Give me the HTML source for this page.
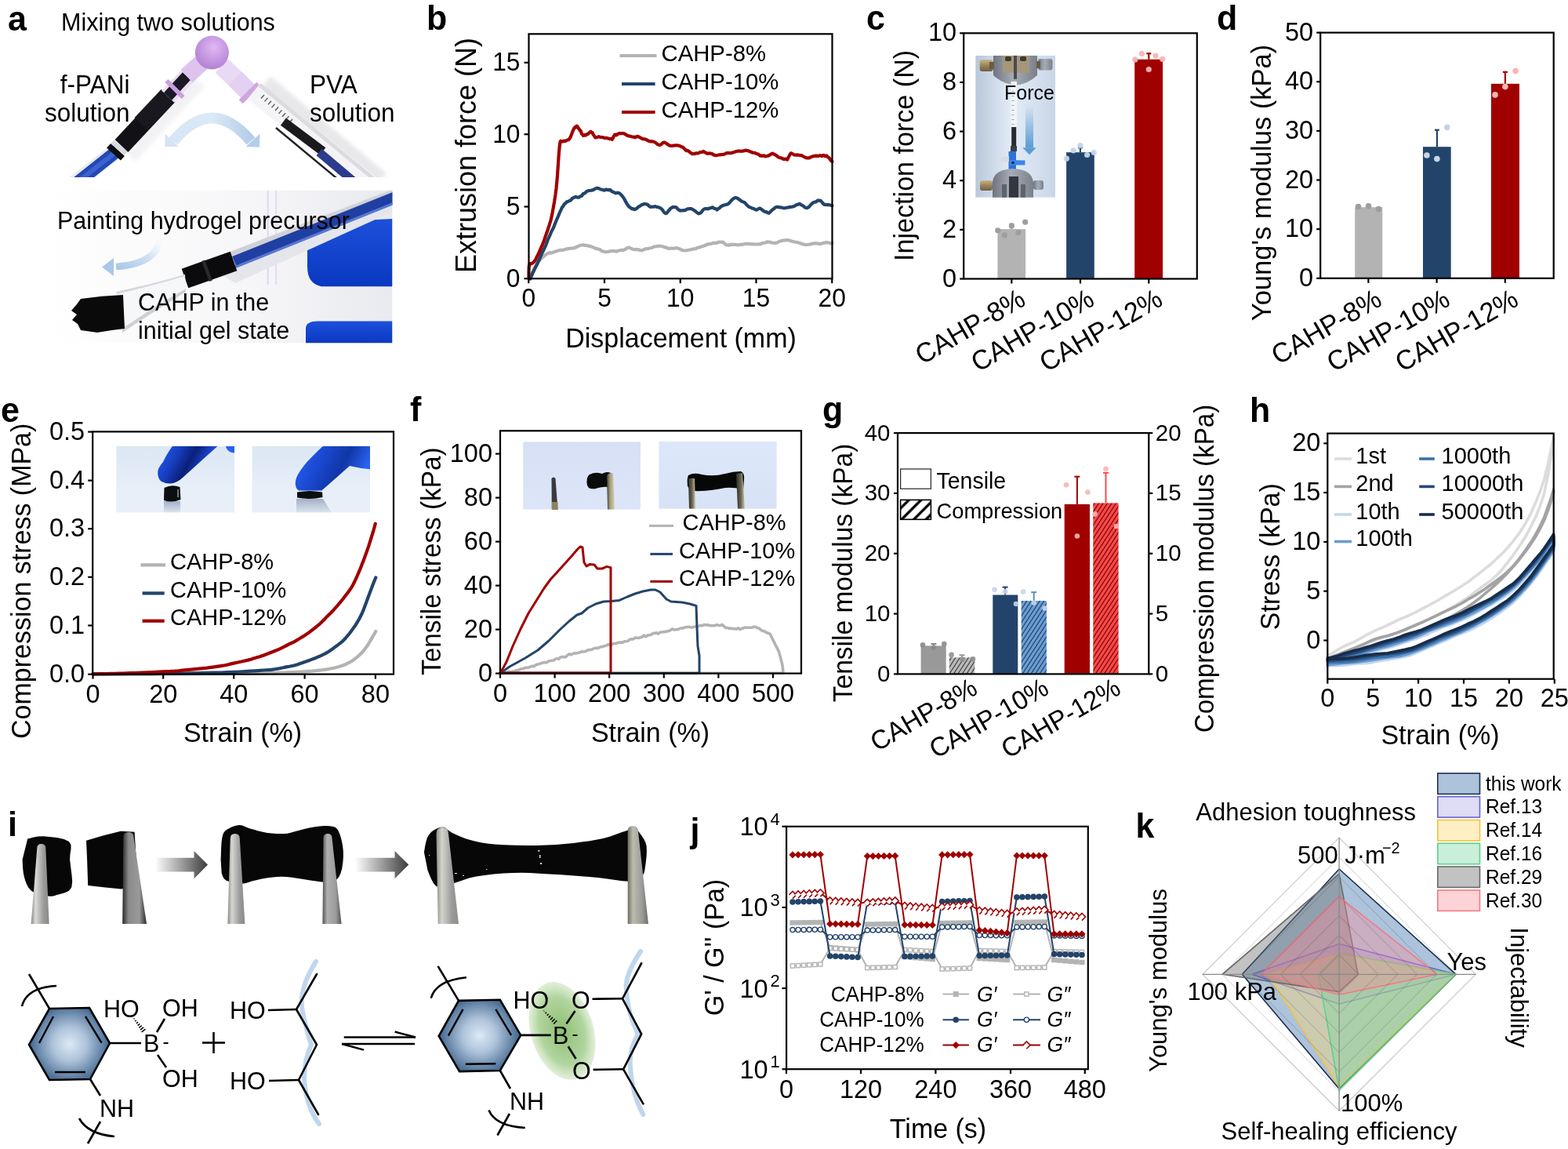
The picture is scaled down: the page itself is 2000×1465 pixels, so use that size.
<!DOCTYPE html>
<html><head><meta charset="utf-8"><style>
html,body{margin:0;padding:0;background:#fff;}
svg{display:block;}
text{font-family:"Liberation Sans",sans-serif;}
</style></head><body>
<svg width="2000" height="1465" viewBox="0 0 2000 1465">
<defs><linearGradient id="a_arc" x1="0" y1="0" x2="1" y2="0"><stop offset="0" stop-color="#d6e6f6"/><stop offset="0.5" stop-color="#dce9f6"/><stop offset="1" stop-color="#b3cdea"/></linearGradient>
<radialGradient id="a_sph" cx="0.55" cy="0.35" r="0.65"><stop offset="0" stop-color="#e0b8f4"/><stop offset="0.6" stop-color="#c596e0"/><stop offset="1" stop-color="#b282d2"/></radialGradient>
<linearGradient id="a_arr2" x1="1" y1="0" x2="0" y2="1"><stop offset="0" stop-color="#ffffff" stop-opacity="0"/><stop offset="0.5" stop-color="#cfe0f2"/><stop offset="1" stop-color="#a9c8e8"/></linearGradient>
<linearGradient id="a_glv" x1="0" y1="0" x2="0" y2="1"><stop offset="0" stop-color="#1d50da"/><stop offset="1" stop-color="#0a38c0"/></linearGradient>
<linearGradient id="a_bg2" x1="0" y1="0" x2="1" y2="0"><stop offset="0" stop-color="#ffffff"/><stop offset="0.6" stop-color="#f6f6f8"/><stop offset="1" stop-color="#e9eaef"/></linearGradient>
<filter id="blur1" x="-20%" y="-20%" width="140%" height="140%"><feGaussianBlur stdDeviation="2.5"/></filter>
<clipPath id="cp_a1"><rect x="0" y="40" width="520" height="186"/></clipPath>
<clipPath id="cp_a2"><rect x="60" y="242.5" width="440.5" height="195"/></clipPath><linearGradient id="tw39" x1="0" y1="0" x2="1" y2="0"><stop offset="0" stop-color="#8a8a86"/><stop offset="0.25" stop-color="#dadad6"/><stop offset="0.7" stop-color="#9a9a9a"/><stop offset="1" stop-color="#8a8a86"/></linearGradient><linearGradient id="tw156" x1="0" y1="0" x2="1" y2="0"><stop offset="0" stop-color="#2a2a2a"/><stop offset="0.25" stop-color="#8a8a8a"/><stop offset="0.7" stop-color="#9a9a9a"/><stop offset="1" stop-color="#2a2a2a"/></linearGradient><linearGradient id="iarr" x1="0" y1="0" x2="1" y2="0"><stop offset="0" stop-color="#fff"/><stop offset="1" stop-color="#3c3c3c"/></linearGradient><linearGradient id="tw290" x1="0" y1="0" x2="1" y2="0"><stop offset="0" stop-color="#8a8a86"/><stop offset="0.25" stop-color="#d6d6d2"/><stop offset="0.7" stop-color="#9a9a9a"/><stop offset="1" stop-color="#8a8a86"/></linearGradient><linearGradient id="tw411" x1="0" y1="0" x2="1" y2="0"><stop offset="0" stop-color="#555"/><stop offset="0.25" stop-color="#b0b0b0"/><stop offset="0.7" stop-color="#9a9a9a"/><stop offset="1" stop-color="#555"/></linearGradient><linearGradient id="tw558" x1="0" y1="0" x2="1" y2="0"><stop offset="0" stop-color="#8e8e88"/><stop offset="0.25" stop-color="#d4d4ce"/><stop offset="0.7" stop-color="#9a9a9a"/><stop offset="1" stop-color="#8e8e88"/></linearGradient><linearGradient id="tw800" x1="0" y1="0" x2="1" y2="0"><stop offset="0" stop-color="#6e6e64"/><stop offset="0.25" stop-color="#bcbcae"/><stop offset="0.7" stop-color="#9a9a9a"/><stop offset="1" stop-color="#6e6e64"/></linearGradient><radialGradient id="rg1" cx="88.66666666666667" cy="1331.0" r="48" gradientUnits="userSpaceOnUse"><stop offset="0" stop-color="#dde9f5"/><stop offset="0.45" stop-color="#aec3da"/><stop offset="1" stop-color="#4d7097"/></radialGradient><radialGradient id="grn" cx="0.5" cy="0.5" r="0.5"><stop offset="0" stop-color="#8dbf72"/><stop offset="0.7" stop-color="#b2d59f"/><stop offset="1" stop-color="#d4e8c8" stop-opacity="0.7"/></radialGradient><radialGradient id="rg2" cx="611.7666666666667" cy="1320.45" r="48" gradientUnits="userSpaceOnUse"><stop offset="0" stop-color="#dde9f5"/><stop offset="0.45" stop-color="#aec3da"/><stop offset="1" stop-color="#4d7097"/></radialGradient><linearGradient id="gc_bg" x1="0" y1="0" x2="1" y2="0"><stop offset="0" stop-color="#b9c7da"/><stop offset="0.45" stop-color="#e3edf8"/><stop offset="1" stop-color="#c9d6e7"/></linearGradient>
<linearGradient id="gc_ar" x1="0" y1="0" x2="0" y2="1"><stop offset="0" stop-color="#5b9bd5" stop-opacity="0"/><stop offset="1" stop-color="#5b9bd5"/></linearGradient>
<clipPath id="cp_c"><rect x="1244.2" y="70.8" width="101.9" height="181"/></clipPath><linearGradient id="brass" x1="0" y1="0" x2="0" y2="1"><stop offset="0" stop-color="#c9b489"/><stop offset="0.5" stop-color="#9a8458"/><stop offset="1" stop-color="#6e6048"/></linearGradient><linearGradient id="steel" x1="0" y1="0" x2="1" y2="0"><stop offset="0" stop-color="#6f7580"/><stop offset="0.45" stop-color="#a7adb6"/><stop offset="1" stop-color="#7b818b"/></linearGradient><linearGradient id="glove1" x1="0" y1="0" x2="1" y2="0.35"><stop offset="0" stop-color="#2460f5"/><stop offset="0.35" stop-color="#163fc0"/><stop offset="0.6" stop-color="#0b1f78"/><stop offset="0.85" stop-color="#1a48d8"/><stop offset="1" stop-color="#2a62f0"/></linearGradient><linearGradient id="glove2" x1="0" y1="0" x2="1" y2="0.3"><stop offset="0" stop-color="#2a66f5"/><stop offset="0.4" stop-color="#1a48d0"/><stop offset="0.7" stop-color="#1036a8"/><stop offset="1" stop-color="#2a62f0"/></linearGradient><linearGradient id="refl" x1="0" y1="0" x2="0" y2="1"><stop offset="0" stop-color="#a3b0c6"/><stop offset="1" stop-color="#dbe4f0"/></linearGradient><linearGradient id="pe1" x1="0" y1="0" x2="0" y2="1"><stop offset="0" stop-color="#dce7f5"/><stop offset="1" stop-color="#ecf2fa"/></linearGradient><clipPath id="cp_pe1"><rect x="148.2" y="568.8" width="150.8" height="84.70000000000005"/></clipPath><linearGradient id="pe2" x1="0" y1="0" x2="0" y2="1"><stop offset="0" stop-color="#dce7f5"/><stop offset="1" stop-color="#ecf2fa"/></linearGradient><clipPath id="cp_pe2"><rect x="321.4" y="568.8" width="150.60000000000002" height="84.70000000000005"/></clipPath><linearGradient id="twf1" x1="0" y1="0" x2="1" y2="0"><stop offset="0" stop-color="#3a3a34"/><stop offset="0.4" stop-color="#a49d7c"/><stop offset="1" stop-color="#d8d2b4"/></linearGradient><linearGradient id="pf1" x1="0" y1="0" x2="0" y2="1"><stop offset="0" stop-color="#d7e0f6"/><stop offset="1" stop-color="#dde5f8"/></linearGradient><clipPath id="cp_pf1"><rect x="667.1" y="563.2" width="150.0" height="86.5"/></clipPath><linearGradient id="pf2" x1="0" y1="0" x2="0" y2="1"><stop offset="0" stop-color="#dce8fa"/><stop offset="1" stop-color="#d8e2f6"/></linearGradient><clipPath id="cp_pf2"><rect x="840.2" y="562.7" width="150.5999999999999" height="86.09999999999991"/></clipPath><linearGradient id="twf" x1="0" y1="0" x2="1" y2="0"><stop offset="0" stop-color="#2e2e2a"/><stop offset="0.55" stop-color="#6c6752"/><stop offset="1" stop-color="#cfc8a8"/></linearGradient><pattern id="hg" patternUnits="userSpaceOnUse" width="4.6" height="4.6" patternTransform="rotate(33)"><rect width="4.6" height="4.6" fill="#BBBBBB"/><line x1="2.3" y1="0" x2="2.3" y2="4.6" stroke="#333" stroke-width="1.1"/></pattern><pattern id="hb" patternUnits="userSpaceOnUse" width="4.6" height="4.6" patternTransform="rotate(33)"><rect width="4.6" height="4.6" fill="#6A9FD8"/><line x1="2.3" y1="0" x2="2.3" y2="4.6" stroke="#1f3350" stroke-width="1.1"/></pattern><pattern id="hr" patternUnits="userSpaceOnUse" width="4.6" height="4.6" patternTransform="rotate(33)"><rect width="4.6" height="4.6" fill="#FF4848"/><line x1="2.3" y1="0" x2="2.3" y2="4.6" stroke="#5a0000" stroke-width="1.1"/></pattern><pattern id="hl" patternUnits="userSpaceOnUse" width="11" height="11" patternTransform="rotate(45)"><rect width="11" height="11" fill="#fff"/><line x1="5.5" y1="0" x2="5.5" y2="11" stroke="#000" stroke-width="3.4"/></pattern></defs>
<rect width="2000" height="1465" fill="#fff"/>
<g clip-path="url(#cp_a1)">
<path d="M173.1 206.1 L261.1 110.1 L238.9 89.9 L150.9 185.9 Z" fill="#dcdce0" filter="url(#blur1)" opacity="0.35"/>
<path d="M327.0 118.7 L475.0 242.7 L493.0 221.3 L345.0 97.3 Z" fill="#d6d6da" filter="url(#blur1)" opacity="0.55"/>
<path d="M145.6 181.7 L85.6 227.7 L98.4 244.3 L158.4 198.3 Z" fill="#e9ecf2"/>
<path d="M145.0 185.7 L87.0 231.7 L97.0 244.3 L155.0 198.3 Z" fill="#2448b4"/>
<path d="M147.2 190.6 L98.2 228.6 L101.8 233.4 L150.8 195.4 Z" fill="#3a62d0"/>
<path d="M141.1 182.9 L136.1 188.4 L153.9 204.6 L158.9 199.1 Z" fill="#0e0e10"/>
<path d="M145.4 178.4 L141.4 182.9 L158.6 198.1 L162.6 193.6 Z" fill="#d9dbe0"/>
<path d="M163.4 193.9 L222.9 130.4 L206.1 114.6 L146.6 178.1 Z" fill="#121216"/>
<path d="M188.4 165.9 L222.4 129.9 L205.6 114.1 L171.6 150.1 Z" fill="#18181e"/>
<path d="M221.9 130.6 L249.9 101.6 L234.1 86.4 L206.1 115.4 Z" fill="#eadff0"/>
<path d="M219.1 127.7 L243.1 101.7 L232.9 92.3 L208.9 118.3 Z" fill="#1c1826"/>
<path d="M231.6 126.1 L235.6 122.1 L214.4 100.9 L210.4 104.9 Z" fill="#c9a0de"/>
<path d="M245.4 105.2 L265.4 87.2 L250.6 70.8 L230.6 88.8 Z" fill="#dec3ee"/>
<path d="M274.6 92.6 L309.6 126.6 L326.4 109.4 L291.4 75.4 Z" fill="#ead9f4"/>
<path d="M291.5 108.5 L309.5 126.5 L326.5 109.5 L308.5 91.5 Z" fill="#e4d0f0"/>
<path d="M304.7 127.3 L309.7 132.3 L332.3 109.7 L327.3 104.7 Z" fill="#cfa6e2"/>
<circle cx="270.4" cy="67" r="21.5" fill="url(#a_sph)"/>
<path d="M315.8 126.1 L463.8 246.1 L480.2 225.9 L332.2 105.9 Z" fill="#f4f4f6"/>
<path d="M329.4 109.9 L477.4 231.9 L480.6 228.1 L332.6 106.1 Z" fill="#dcdce0"/>
<path d="M333.5 126.0 L337.5 121.5 L336.5 120.5 L332.5 125.0 Z" fill="#555"/>
<path d="M338.0 129.8 L342.0 125.3 L341.0 124.4 L337.0 128.9 Z" fill="#555"/>
<path d="M342.5 133.7 L346.5 129.2 L345.5 128.3 L341.5 132.8 Z" fill="#555"/>
<path d="M347.0 137.6 L351.0 133.1 L350.0 132.2 L346.0 136.7 Z" fill="#555"/>
<path d="M351.5 141.5 L355.5 137.0 L354.5 136.0 L350.5 140.5 Z" fill="#555"/>
<path d="M356.0 145.3 L360.0 140.8 L359.0 139.9 L355.0 144.4 Z" fill="#555"/>
<path d="M360.5 149.2 L364.5 144.7 L363.5 143.8 L359.5 148.3 Z" fill="#555"/>
<path d="M365.0 153.1 L369.0 148.6 L368.0 147.7 L364.0 152.2 Z" fill="#555"/>
<path d="M369.5 157.0 L373.5 152.5 L372.5 151.5 L368.5 156.0 Z" fill="#555"/>
<path d="M357.9 159.7 L408.3 197.5 L415.3 188.3 L364.9 150.5 Z" fill="#1a1a1c"/>
<path d="M351.2 163.9 L439.2 236.9 L440.8 235.1 L352.8 162.1 Z" fill="#222"/>
<path d="M403.5 198.2 L448.5 236.2 L455.5 227.8 L410.5 189.8 Z" fill="#2c3c8c"/>
<path d="M221 180 Q270.4 121 320 180" fill="none" stroke="url(#a_arc)" stroke-width="14"/>
<path d="M210.5 170.5 L210.5 187.1 L228 187.1 Z" fill="#d4e4f5"/>
<path d="M331.6 170.5 L331 187.8 L313.6 187.1 Z" fill="#b3cdea"/>
</g>
<g clip-path="url(#cp_a2)">
<rect x="60.00" y="242.50" width="440.50" height="195.00" fill="url(#a_bg2)"/>
<rect x="340.60" y="243.00" width="2.20" height="120.00" fill="#e2d9ee"/>
<rect x="351.00" y="243.00" width="2.20" height="120.00" fill="#e6def0"/>
<path d="M392 318 Q392 292 415 286 L440 282 L500.5 279 L500.5 365.2 L410 365.2 Q392 362 392 340 Z" fill="url(#a_glv)"/>
<path d="M390 418 Q391 409.4 405 409.4 L500.5 409.4 L500.5 437.5 L390 437.5 Z" fill="url(#a_glv)"/>
<path d="M258 335 L500.5 240 L500.5 270 L300 361 Z" fill="#e4e6ec"/>
<path d="M262 333 L500.5 242 L500.5 250 L266 341 Z" fill="#cfd1d8"/>
<path d="M301.8 341.0 L507.8 258.5 L502.2 244.5 L296.2 327.0 Z" fill="#1f3fa2"/>
<path d="M299.6 342.4 L505.6 259.4 L504.4 256.6 L298.4 339.6 Z" fill="#5a78d0"/>
<path d="M240.3 367.3 L302.3 345.3 L293.7 320.7 L231.7 342.7 Z" fill="#0b0b0d"/>
<path d="M266.9 359.1 L270.9 357.6 L261.1 331.4 L257.1 332.9 Z" fill="#2a2a2e"/>
<path d="M148 372 Q195 362 236 350 L237 372 Q200 395 156 424 Z" fill="#f6f7f9"/>
<path d="M156 424 Q200 395 237 372 L237 368 Q198 390 156 419 Z" fill="#cdd0d6"/>
<path d="M148 372 Q195 362 236 350 L236 352 Q195 364 149 375 Z" fill="#d5d7dc"/>
<path d="M157 376 L159 419 Q140 421 124 424 L103 421 L99 413 L92 408 L98 401 L91 396 L98 388 L103 381 Q130 377 157 376 Z" fill="#0a0a0a"/>
<path d="M205 296 Q206 336 148 340" fill="none" stroke="url(#a_arr2)" stroke-width="8.5"/>
<path d="M130 340.5 L145 329 L145 352 Z" fill="#a9c8e8"/>
</g>
<text transform="translate(78.00 38.75) scale(1 1.03)" font-size="30.5">Mixing two solutions</text>
<text transform="translate(165.50 118.75) scale(1 1.03)" font-size="31.5" text-anchor="end">f-PANi</text>
<text transform="translate(165.50 155.00) scale(1 1.03)" font-size="31.5" text-anchor="end">solution</text>
<text transform="translate(395.00 118.75) scale(1 1.03)" font-size="31.5">PVA</text>
<text transform="translate(395.00 155.00) scale(1 1.03)" font-size="31.5">solution</text>
<text transform="translate(73.00 291.90) scale(1 1.03)" font-size="30.5">Painting hydrogel precursor</text>
<text transform="translate(176.00 396.00) scale(1 1.03)" font-size="30.5">CAHP in the</text>
<text transform="translate(176.00 432.00) scale(1 1.03)" font-size="30.5">initial gel state</text>
<path d="M35.2 1069.6 L38.4 1068.8 L43.0 1067.5 L48.7 1066.5 L55.0 1066.3 L63.1 1066.9 L72.7 1067.9 L81.7 1069.9 L88.0 1072.9 L90.5 1077.2 L90.5 1082.7 L89.5 1089.0 L89.1 1096.0 L90.1 1104.5 L91.4 1114.4 L92.2 1123.9 L91.3 1131.2 L88.0 1135.7 L82.9 1138.3 L77.4 1139.8 L72.6 1141.1 L69.1 1142.2 L66.1 1142.7 L63.0 1142.7 L59.4 1142.2 L54.7 1141.3 L49.2 1140.1 L43.9 1138.2 L39.6 1135.6 L36.5 1132.1 L34.1 1127.8 L32.3 1123.0 L30.8 1118.0 L29.7 1112.3 L29.1 1105.9 L28.8 1100.1 L28.6 1096.0 Z" fill="#070707" stroke="none" stroke-width="0" stroke-linejoin="round" stroke-linecap="round"/>
<path d="M39.6 1178 L47.3 1081.5 Q47.3 1076 52.8 1076 Q58.3 1076 58.3 1081.5 L62.7 1178 Z" fill="url(#tw39)"/>
<path d="M110.0 1071.8 L132.0 1065.2 L154.0 1059.7 L171.6 1060.8 L173.8 1096.0 L171.6 1131.2 L154.0 1133.4 L132.0 1131.2 L112.2 1129.0 L111.1 1096.0 Z" fill="#070707" stroke="none" stroke-width="0" stroke-linejoin="round" stroke-linecap="round"/>
<path d="M156.2 1178 L157.3 1067.6 Q157.3 1061 163.9 1061 Q170.5 1061 170.5 1067.6 L187 1178 Z" fill="url(#tw156)"/>
<path d="M198 1093.8 L247.5 1093.8 L247.5 1085 L265 1102.6 L247.5 1120.2 L247.5 1111.4 L198 1111.4 Z" fill="url(#iarr)"/>
<path d="M281.6 1096.0 L281.8 1091.0 L282.0 1083.7 L282.4 1076.1 L283.0 1070.0 L283.8 1066.0 L284.7 1063.1 L286.0 1060.8 L288.2 1058.6 L291.6 1056.4 L295.9 1054.3 L300.5 1052.8 L304.7 1052.0 L308.2 1052.3 L311.5 1053.4 L314.9 1055.0 L319.0 1056.4 L324.0 1057.8 L329.5 1059.4 L335.3 1060.8 L341.0 1061.9 L346.8 1062.6 L352.7 1062.9 L358.3 1063.1 L363.0 1063.0 L366.3 1062.8 L368.5 1062.3 L370.7 1061.7 L374.0 1060.8 L378.7 1059.6 L384.3 1058.0 L390.2 1056.5 L396.0 1055.3 L401.7 1054.3 L407.6 1053.5 L413.1 1053.0 L418.0 1053.1 L422.1 1053.4 L425.6 1054.1 L428.6 1055.6 L431.2 1058.6 L433.5 1063.7 L435.5 1070.4 L437.0 1077.8 L437.8 1085.0 L437.9 1092.4 L437.3 1100.3 L436.2 1107.6 L434.5 1113.6 L432.4 1117.9 L429.9 1121.0 L426.6 1123.2 L422.4 1124.6 L416.9 1125.0 L410.4 1124.5 L403.2 1123.4 L396.0 1122.4 L388.4 1121.3 L380.3 1120.0 L372.4 1118.8 L365.2 1118.0 L359.0 1117.8 L353.4 1118.1 L348.2 1118.5 L343.2 1119.1 L338.5 1119.7 L334.1 1120.5 L329.9 1121.4 L325.6 1122.4 L321.3 1123.6 L316.9 1125.1 L312.6 1126.3 L308.0 1126.8 L302.9 1126.4 L297.3 1125.4 L292.2 1124.0 L288.2 1122.4 L285.7 1120.3 L284.2 1117.7 L283.4 1115.3 L282.7 1113.6 Z" fill="#070707" stroke="none" stroke-width="0" stroke-linejoin="round" stroke-linecap="round"/>
<path d="M290.4 1178 L293.7 1069.05 Q293.7 1063 299.75 1063 Q305.8 1063 305.8 1069.05 L312.4 1178 Z" fill="url(#tw290)"/>
<path d="M411.4 1178 L412.5 1068.5 Q412.5 1063 418.0 1063 Q423.5 1063 423.5 1068.5 L435.6 1178 Z" fill="url(#tw411)"/>
<path d="M453 1093.8 L503.5 1093.8 L503.5 1085 L521.3 1102.6 L503.5 1120.2 L503.5 1111.4 L453 1111.4 Z" fill="url(#iarr)"/>
<path d="M540.9 1086.5 L541.5 1083.0 L542.4 1077.8 L543.6 1072.4 L545.0 1068.0 L546.7 1064.9 L548.6 1062.4 L550.8 1060.3 L553.3 1058.6 L556.1 1057.0 L559.3 1055.6 L562.6 1054.8 L565.7 1054.7 L568.2 1055.6 L570.4 1057.4 L573.0 1059.5 L576.5 1061.7 L581.3 1064.0 L586.9 1066.5 L593.1 1068.9 L599.8 1071.0 L606.5 1072.7 L613.4 1074.2 L621.2 1075.4 L630.8 1076.4 L642.9 1077.2 L656.9 1077.7 L671.4 1078.0 L685.0 1078.0 L697.3 1077.6 L709.2 1076.9 L720.6 1076.0 L731.5 1074.9 L742.0 1073.6 L752.1 1072.2 L761.5 1070.5 L770.3 1068.7 L778.4 1066.4 L785.9 1063.8 L792.6 1061.3 L798.2 1059.4 L802.4 1058.1 L805.4 1057.2 L807.8 1056.8 L810.0 1057.0 L812.0 1057.7 L813.6 1059.0 L815.1 1060.9 L816.8 1063.3 L818.9 1066.3 L821.2 1069.8 L823.3 1074.0 L824.6 1078.8 L824.9 1084.9 L824.6 1092.1 L823.8 1099.2 L823.0 1105.0 L822.4 1109.2 L821.7 1112.5 L820.5 1115.1 L818.4 1117.5 L815.5 1119.7 L812.0 1121.7 L807.4 1123.1 L801.3 1123.7 L793.7 1123.3 L784.8 1122.0 L774.4 1120.4 L762.6 1119.0 L748.4 1117.8 L732.0 1116.5 L715.5 1115.3 L700.5 1114.4 L687.8 1113.7 L676.3 1113.1 L665.3 1112.8 L654.0 1112.9 L642.0 1113.5 L629.8 1114.5 L618.0 1115.9 L607.5 1117.5 L598.4 1119.6 L590.4 1122.2 L583.1 1124.8 L576.5 1126.8 L570.5 1128.6 L565.2 1130.2 L560.5 1131.0 L556.4 1130.0 L552.8 1126.1 L549.7 1120.1 L547.2 1114.0 L545.5 1109.8 Z" fill="#070707" stroke="none" stroke-width="0" stroke-linejoin="round" stroke-linecap="round"/>
<rect x="686.00" y="1084.00" width="2.50" height="1.50" fill="#d8d8d8"/>
<rect x="688.00" y="1090.00" width="1.50" height="4.00" fill="#d8d8d8"/>
<rect x="689.00" y="1100.00" width="2.00" height="2.00" fill="#d8d8d8"/>
<rect x="580.00" y="1113.00" width="3.00" height="1.20" fill="#d8d8d8"/>
<rect x="590.00" y="1116.00" width="2.00" height="1.00" fill="#d8d8d8"/>
<rect x="547.00" y="1090.00" width="1.20" height="1.20" fill="#d8d8d8"/>
<rect x="560.00" y="1120.00" width="1.50" height="1.50" fill="#d8d8d8"/>
<rect x="620.00" y="1108.00" width="1.50" height="1.00" fill="#d8d8d8"/>
<path d="M558.7 1178 L556.5 1062.75 Q556.5 1055 564.25 1055 Q572 1055 572 1062.75 L585 1178 Z" fill="url(#tw558)"/>
<path d="M800.7 1178 L800.7 1059.65 Q800.7 1053 807.35 1053 Q814 1053 814 1059.65 L827 1178 Z" fill="url(#tw800)"/>
<path d="M63 1286 L114 1285 L140 1330 L115 1376 L63 1377 L37 1332 Z" fill="url(#rg1)" stroke="#000" stroke-width="2.6" stroke-linejoin="miter"/>
<line x1="50.00" y1="1330.00" x2="68.00" y2="1296.00" stroke="#000" stroke-width="2.4"/>
<line x1="109.00" y1="1296.00" x2="129.60" y2="1329.60" stroke="#000" stroke-width="2.4"/>
<line x1="70.00" y1="1367.00" x2="109.00" y2="1367.00" stroke="#000" stroke-width="2.4"/>
<line x1="63.00" y1="1286.00" x2="37.00" y2="1242.00" stroke="#000" stroke-width="2.6"/>
<path d="M28 1283 Q34 1259 72 1257" fill="none" stroke="#000" stroke-width="2.6"/>
<line x1="140.00" y1="1330.00" x2="180.00" y2="1330.00" stroke="#000" stroke-width="2.6"/>
<text transform="translate(183.00 1341.00) scale(1 1.03)" font-size="30.5">B</text>
<text transform="translate(207.50 1337.00) scale(1 1.03)" font-size="24.400000000000002">-</text>
<text transform="translate(132.00 1297.00) scale(1 1.03)" font-size="30.5">HO</text>
<line x1="180.66" y1="1315.87" x2="185.34" y2="1312.13" stroke="#000" stroke-width="1.5"/>
<line x1="178.98" y1="1313.11" x2="183.02" y2="1309.89" stroke="#000" stroke-width="1.5"/>
<line x1="177.31" y1="1310.35" x2="180.69" y2="1307.65" stroke="#000" stroke-width="1.5"/>
<line x1="175.63" y1="1307.59" x2="178.37" y2="1305.41" stroke="#000" stroke-width="1.5"/>
<line x1="173.96" y1="1304.83" x2="176.04" y2="1303.17" stroke="#000" stroke-width="1.5"/>
<line x1="172.28" y1="1302.07" x2="173.72" y2="1300.93" stroke="#000" stroke-width="1.5"/>
<line x1="170.61" y1="1299.31" x2="171.39" y2="1298.69" stroke="#000" stroke-width="1.5"/>
<line x1="200.00" y1="1316.00" x2="210.00" y2="1299.00" stroke="#000" stroke-width="2.6"/>
<text transform="translate(207.00 1296.00) scale(1 1.03)" font-size="30.5">OH</text>
<line x1="201.00" y1="1345.00" x2="212.00" y2="1361.00" stroke="#000" stroke-width="2.6"/>
<text transform="translate(207.00 1386.00) scale(1 1.03)" font-size="30.5">OH</text>
<line x1="115.00" y1="1376.00" x2="128.00" y2="1397.00" stroke="#000" stroke-width="2.6"/>
<text transform="translate(127.00 1424.00) scale(1 1.03)" font-size="30.5">NH</text>
<line x1="128.00" y1="1430.00" x2="112.00" y2="1458.00" stroke="#000" stroke-width="2.6"/>
<path d="M101 1426 Q112 1446 146 1449" fill="none" stroke="#000" stroke-width="2.6"/>
<line x1="258.00" y1="1329.50" x2="287.00" y2="1329.50" stroke="#000" stroke-width="2.6"/>
<line x1="272.50" y1="1316.00" x2="272.50" y2="1343.00" stroke="#000" stroke-width="2.6"/>
<path d="M403 1226 Q380 1262 386 1290 Q392 1318 397 1332 Q388 1352 388 1375 Q390 1410 407 1433" fill="none" stroke="#b9d1ea" stroke-width="6" stroke-linecap="round" opacity="0.9"/>
<path d="M404.0 1242.0 L378.0 1287.0 L404.0 1332.0 L381.0 1377.0 L406.0 1421.0" fill="none" stroke="#000" stroke-width="2.6" stroke-linejoin="round" stroke-linecap="round"/>
<line x1="342.00" y1="1288.00" x2="378.00" y2="1287.00" stroke="#000" stroke-width="2.6"/>
<line x1="343.00" y1="1378.00" x2="381.00" y2="1377.00" stroke="#000" stroke-width="2.6"/>
<text transform="translate(293.00 1299.00) scale(1 1.03)" font-size="30.5">HO</text>
<text transform="translate(293.00 1389.00) scale(1 1.03)" font-size="30.5">HO</text>
<line x1="438.70" y1="1322.50" x2="530.00" y2="1322.50" stroke="#000" stroke-width="2.4"/>
<line x1="530.00" y1="1322.50" x2="503.60" y2="1315.50" stroke="#000" stroke-width="2.4"/>
<line x1="436.00" y1="1331.00" x2="529.00" y2="1331.00" stroke="#000" stroke-width="2.4"/>
<line x1="436.00" y1="1331.00" x2="464.00" y2="1338.60" stroke="#000" stroke-width="2.4"/>
<ellipse cx="717" cy="1314.4" rx="40" ry="64" fill="url(#grn)" transform="rotate(-17 717 1314.4)"/>
<path d="M585 1275.9 L637.8 1274.8 L664.2 1319.9 L637.8 1365 L586.1 1366.1 L559.7 1321 Z" fill="url(#rg2)" stroke="#000" stroke-width="2.6" stroke-linejoin="miter"/>
<line x1="571.80" y1="1320.60" x2="590.50" y2="1286.90" stroke="#000" stroke-width="2.4"/>
<line x1="632.30" y1="1286.90" x2="652.10" y2="1319.90" stroke="#000" stroke-width="2.4"/>
<line x1="593.80" y1="1356.70" x2="632.30" y2="1356.20" stroke="#000" stroke-width="2.4"/>
<line x1="585.00" y1="1275.90" x2="558.60" y2="1231.90" stroke="#000" stroke-width="2.6"/>
<path d="M549.8 1272.6 Q556 1250 594.9 1246.2" fill="none" stroke="#000" stroke-width="2.6"/>
<line x1="664.20" y1="1319.90" x2="702.70" y2="1319.90" stroke="#000" stroke-width="2.6"/>
<text transform="translate(705.00 1331.00) scale(1 1.03)" font-size="30.5">B</text>
<text transform="translate(729.50 1327.00) scale(1 1.03)" font-size="24.400000000000002">-</text>
<text transform="translate(654.50 1285.80) scale(1 1.03)" font-size="30.5">HO</text>
<line x1="706.08" y1="1305.52" x2="710.32" y2="1301.28" stroke="#000" stroke-width="1.5"/>
<line x1="703.99" y1="1302.84" x2="707.64" y2="1299.19" stroke="#000" stroke-width="1.5"/>
<line x1="701.90" y1="1300.17" x2="704.97" y2="1297.10" stroke="#000" stroke-width="1.5"/>
<line x1="699.81" y1="1297.49" x2="702.29" y2="1295.01" stroke="#000" stroke-width="1.5"/>
<line x1="697.72" y1="1294.81" x2="699.61" y2="1292.92" stroke="#000" stroke-width="1.5"/>
<line x1="695.64" y1="1292.13" x2="696.93" y2="1290.84" stroke="#000" stroke-width="1.5"/>
<line x1="693.55" y1="1289.45" x2="694.25" y2="1288.75" stroke="#000" stroke-width="1.5"/>
<line x1="722.50" y1="1305.20" x2="733.50" y2="1289.10" stroke="#000" stroke-width="2.6"/>
<line x1="724.70" y1="1334.20" x2="734.60" y2="1350.00" stroke="#000" stroke-width="2.6"/>
<text transform="translate(729.00 1285.80) scale(1 1.03)" font-size="30.5">O</text>
<text transform="translate(730.00 1376.00) scale(1 1.03)" font-size="30.5">O</text>
<line x1="755.50" y1="1273.70" x2="794.00" y2="1273.30" stroke="#000" stroke-width="2.6"/>
<line x1="756.60" y1="1363.90" x2="795.10" y2="1363.30" stroke="#000" stroke-width="2.6"/>
<path d="M817 1213 Q796 1245 799 1262 Q800 1290 813.8 1318.8 Q802 1340 804 1360 Q806 1395 820.4 1421" fill="none" stroke="#b9d1ea" stroke-width="6" stroke-linecap="round" opacity="0.9"/>
<path d="M818.2 1228.2 L794.0 1273.3 L818.2 1318.4 L795.1 1363.3 L820.4 1407.3" fill="none" stroke="#000" stroke-width="2.6" stroke-linejoin="round" stroke-linecap="round"/>
<line x1="637.80" y1="1365.00" x2="651.00" y2="1388.00" stroke="#000" stroke-width="2.6"/>
<text transform="translate(650.00 1414.50) scale(1 1.03)" font-size="30.5">NH</text>
<line x1="649.90" y1="1420.00" x2="634.50" y2="1447.50" stroke="#000" stroke-width="2.6"/>
<path d="M623.5 1415.6 Q632 1436 669.7 1438" fill="none" stroke="#000" stroke-width="2.6"/>
<text transform="translate(10.00 39.00) scale(1 1.03)" font-size="43" font-weight="bold">a</text>
<text transform="translate(544.00 38.00) scale(1 1.03)" font-size="43" font-weight="bold">b</text>
<text transform="translate(1105.00 38.00) scale(1 1.03)" font-size="43" font-weight="bold">c</text>
<text transform="translate(1552.00 38.00) scale(1 1.03)" font-size="43" font-weight="bold">d</text>
<text transform="translate(1.00 538.00) scale(1 1.03)" font-size="43" font-weight="bold">e</text>
<text transform="translate(523.00 537.00) scale(1 1.03)" font-size="43" font-weight="bold">f</text>
<text transform="translate(1049.00 537.00) scale(1 1.03)" font-size="43" font-weight="bold">g</text>
<text transform="translate(1594.00 538.00) scale(1 1.03)" font-size="43" font-weight="bold">h</text>
<text transform="translate(10.00 1066.00) scale(1 1.03)" font-size="43" font-weight="bold">i</text>
<text transform="translate(880.50 1073.70) scale(1 1.03)" font-size="43" font-weight="bold">j</text>
<text transform="translate(1448.50 1067.50) scale(1 1.03)" font-size="43" font-weight="bold">k</text>
<path d="M677.6 350.2 L678.5 348.5 L679.7 346.0 L681.0 343.2 L682.3 340.8 L683.4 338.7 L684.4 336.7 L685.5 334.8 L687.0 332.9 L689.1 330.8 L691.5 328.6 L694.0 326.4 L696.5 324.4 L698.7 323.2 L701.0 322.1 L703.3 322.6 L705.9 321.5 L708.8 320.5 L712.0 319.5 L715.2 318.9 L718.4 318.8 L721.6 317.6 L724.7 317.1 L727.9 316.6 L731.0 316.4 L734.2 315.6 L737.5 313.8 L740.6 312.8 L743.6 312.3 L746.1 312.9 L748.5 312.9 L750.7 313.7 L753.0 313.9 L755.3 314.8 L757.7 315.9 L760.1 316.7 L762.4 317.5 L764.8 317.9 L767.1 319.8 L769.5 320.5 L771.8 321.4 L774.2 321.0 L776.5 320.9 L778.9 320.0 L781.3 320.0 L783.6 319.9 L786.0 320.7 L788.3 319.7 L790.7 319.3 L793.0 318.8 L795.4 318.9 L797.7 317.7 L800.1 316.1 L802.5 315.5 L804.8 316.7 L807.2 317.8 L809.5 318.3 L811.9 317.9 L814.2 318.4 L816.6 319.0 L818.9 319.3 L821.2 318.3 L823.5 317.2 L825.8 317.2 L828.4 316.5 L831.3 316.0 L834.5 314.3 L837.7 314.1 L840.9 313.5 L844.1 314.0 L847.4 315.1 L850.6 315.9 L853.5 316.9 L856.1 316.7 L858.4 316.7 L860.6 316.7 L862.9 316.0 L865.2 316.9 L867.4 317.5 L869.8 318.9 L872.3 319.5 L875.3 319.3 L878.6 318.7 L881.9 318.1 L884.9 317.3 L887.4 317.1 L889.6 315.9 L891.8 315.5 L894.3 314.6 L897.2 313.7 L900.4 312.5 L903.7 311.0 L906.9 310.9 L910.1 309.7 L913.4 310.0 L916.5 308.7 L919.4 308.7 L922.0 308.7 L924.4 310.7 L926.6 312.2 L928.9 312.7 L931.2 312.1 L933.4 311.6 L935.7 311.9 L938.3 311.8 L941.2 312.5 L944.4 311.8 L947.6 311.7 L950.9 310.9 L954.0 310.9 L957.1 311.1 L960.3 311.3 L963.4 311.5 L966.6 311.3 L969.7 311.3 L972.8 310.0 L976.0 309.5 L979.1 308.3 L982.3 308.9 L985.4 309.6 L988.5 310.0 L991.7 309.2 L994.8 307.5 L998.0 306.7 L1001.1 306.3 L1004.2 306.0 L1007.4 306.8 L1010.5 307.7 L1013.7 308.5 L1016.8 308.9 L1019.9 309.8 L1023.1 311.1 L1026.2 311.8 L1029.4 312.0 L1032.5 311.6 L1035.7 310.9 L1038.8 310.2 L1042.0 310.4 L1045.2 310.8 L1048.4 310.6 L1051.4 309.6 L1054.3 309.1 L1057.2 309.5 L1059.7 310.2 L1061.4 309.7" fill="none" stroke="#B3B3B3" stroke-width="4.2" stroke-linejoin="round" stroke-linecap="round"/>
<path d="M676.4 355.5 L677.1 353.8 L678.2 351.3 L679.4 348.4 L680.8 345.5 L682.1 342.7 L683.6 339.8 L685.2 336.7 L687.0 332.9 L689.2 327.6 L691.5 322.5 L694.0 317.5 L696.5 312.0 L698.8 305.5 L701.3 300.2 L703.6 294.7 L705.9 290.5 L708.0 285.0 L710.0 280.3 L711.9 276.0 L713.7 271.4 L715.4 267.9 L717.0 264.3 L718.5 262.8 L720.0 260.0 L721.5 259.0 L723.1 257.2 L724.6 256.9 L726.3 256.0 L728.1 255.3 L730.1 252.7 L732.1 252.0 L734.1 250.9 L736.1 251.6 L738.1 251.6 L740.0 250.5 L742.0 249.7 L743.9 247.0 L745.8 246.4 L747.8 244.4 L749.8 243.4 L752.1 243.0 L754.5 242.6 L756.9 242.1 L759.3 240.5 L761.6 239.8 L764.0 240.3 L766.3 241.5 L768.7 241.9 L771.0 242.7 L773.4 241.5 L775.8 242.4 L778.1 241.9 L780.5 244.1 L782.9 245.2 L785.3 246.3 L787.5 245.7 L789.6 246.1 L791.6 247.7 L793.5 249.8 L795.4 252.3 L797.2 255.4 L799.1 259.0 L800.8 261.6 L802.6 263.8 L804.4 265.0 L806.1 266.4 L807.8 266.2 L809.5 267.2 L811.1 266.4 L812.7 265.4 L814.2 263.8 L815.8 262.9 L817.3 262.0 L818.8 260.9 L820.4 260.7 L822.1 259.8 L823.9 260.2 L825.9 260.8 L827.9 262.8 L829.9 263.9 L831.9 263.5 L834.0 263.7 L835.9 263.1 L837.8 263.9 L839.5 264.0 L841.0 264.8 L842.5 265.4 L844.1 266.6 L845.7 268.8 L847.3 270.9 L848.9 272.2 L850.4 271.7 L851.6 270.2 L852.7 268.6 L853.8 267.6 L855.1 265.9 L856.5 265.1 L858.1 263.9 L859.7 264.2 L861.3 264.0 L862.9 264.7 L864.5 266.5 L866.1 267.8 L867.6 268.7 L869.2 268.3 L870.7 268.5 L872.2 268.1 L873.9 268.1 L875.7 267.0 L877.6 266.3 L879.6 266.1 L881.8 266.2 L884.0 267.3 L886.5 268.9 L888.9 271.0 L891.2 272.3 L893.3 271.7 L895.2 269.8 L897.1 267.3 L899.0 266.2 L901.0 266.1 L903.0 266.3 L904.9 265.5 L906.9 265.1 L908.9 264.3 L910.9 265.7 L912.9 266.1 L914.7 267.6 L916.4 265.9 L917.9 265.1 L919.4 263.5 L921.0 262.7 L922.8 261.7 L924.7 261.2 L926.8 260.7 L928.9 260.0 L931.1 257.7 L933.5 255.0 L935.9 252.9 L938.3 251.9 L940.7 252.7 L943.1 254.5 L945.5 256.3 L947.7 257.4 L949.8 258.2 L951.7 260.4 L953.6 262.3 L955.6 264.0 L957.5 264.5 L959.5 265.6 L961.5 266.2 L963.4 267.2 L965.4 267.6 L967.3 266.2 L969.3 265.6 L971.3 266.9 L973.3 268.5 L975.3 269.8 L977.3 270.1 L979.1 271.3 L980.8 271.8 L982.4 270.2 L983.9 268.8 L985.4 267.3 L986.9 266.4 L988.3 265.0 L989.9 264.0 L991.7 263.7 L993.8 264.3 L996.2 264.4 L998.7 265.1 L1001.1 265.3 L1003.5 264.8 L1005.8 264.4 L1008.2 263.9 L1010.5 263.6 L1012.9 263.0 L1015.2 261.5 L1017.6 260.7 L1019.9 259.8 L1022.3 261.4 L1024.7 262.7 L1027.0 264.8 L1029.4 265.2 L1031.8 263.9 L1034.2 261.0 L1036.5 258.9 L1038.8 257.7 L1040.9 257.2 L1042.9 255.7 L1044.8 255.6 L1046.6 255.8 L1048.3 257.6 L1049.7 259.4 L1051.2 260.8 L1052.9 260.9 L1055.1 261.1 L1057.6 261.2 L1059.8 261.7 L1061.4 262.2" fill="none" stroke="#23446A" stroke-width="4.2" stroke-linejoin="round" stroke-linecap="round"/>
<path d="M674.5 354.9 L674.5 351.4 L674.5 346.4 L674.7 341.3 L675.1 337.6 L675.8 336.2 L676.7 336.2 L677.8 336.3 L679.2 335.4 L680.8 334.3 L682.8 331.6 L684.9 327.2 L687.0 323.1 L689.3 317.9 L691.7 312.4 L694.2 305.9 L696.5 299.1 L698.6 293.2 L700.6 287.1 L702.6 280.5 L704.3 273.0 L705.8 264.6 L707.2 256.6 L708.5 248.0 L709.6 239.2 L710.8 226.3 L711.8 211.6 L712.8 196.6 L713.7 186.9 L714.5 181.0 L715.2 179.8 L716.0 180.6 L716.9 180.2 L718.0 180.5 L719.4 179.6 L720.8 180.1 L722.2 179.3 L723.6 178.5 L725.1 178.2 L726.5 176.7 L727.9 174.4 L729.1 171.1 L730.4 167.7 L731.5 165.2 L732.6 163.0 L733.4 163.0 L734.2 161.5 L734.9 161.4 L735.7 160.6 L736.7 161.2 L737.7 163.8 L738.7 164.4 L739.8 166.7 L740.8 166.9 L741.9 170.7 L743.0 171.3 L744.2 173.1 L745.5 172.0 L747.0 172.6 L748.5 171.0 L749.8 171.1 L751.1 169.6 L752.3 168.8 L753.4 167.7 L754.6 169.2 L755.6 169.0 L756.6 171.5 L757.8 173.0 L759.3 175.4 L761.3 175.1 L763.7 174.2 L766.2 175.0 L768.7 175.1 L771.2 175.9 L773.7 175.9 L776.1 176.6 L778.1 177.1 L779.6 176.8 L780.8 177.7 L781.8 176.2 L782.8 174.0 L784.0 171.8 L785.1 171.5 L786.2 172.3 L787.5 171.2 L788.9 170.5 L790.4 169.9 L792.0 170.2 L793.8 170.1 L796.0 170.2 L798.3 171.6 L800.8 173.1 L803.2 173.5 L805.6 174.2 L808.0 174.6 L810.3 175.1 L812.7 173.8 L815.0 174.6 L817.4 175.8 L819.7 177.1 L822.1 177.3 L824.4 178.1 L826.8 179.5 L829.2 180.3 L831.5 180.2 L833.9 180.7 L836.4 182.0 L838.8 184.1 L840.9 184.9 L842.6 184.6 L844.1 183.4 L845.5 182.1 L847.2 181.5 L849.3 182.4 L851.7 184.0 L854.2 185.7 L856.6 186.0 L859.1 185.6 L861.5 185.4 L863.9 185.4 L866.1 185.8 L867.8 186.4 L869.4 187.3 L870.8 187.6 L872.3 189.1 L873.8 190.5 L875.3 192.1 L876.8 191.9 L878.6 192.9 L880.8 194.8 L883.1 196.2 L885.6 196.2 L888.0 195.3 L890.5 195.5 L892.9 194.2 L895.3 194.0 L897.5 193.0 L899.2 194.4 L900.6 194.8 L902.0 195.9 L903.7 195.4 L905.9 195.6 L908.3 196.1 L910.7 197.6 L913.2 198.2 L915.5 197.8 L917.9 197.3 L920.2 197.1 L922.6 197.0 L924.9 196.1 L927.3 195.0 L929.7 195.1 L932.0 195.2 L934.4 194.6 L936.7 193.9 L939.1 193.0 L941.4 192.7 L943.8 192.7 L946.1 192.8 L948.5 192.4 L950.9 191.7 L953.2 192.0 L955.6 192.8 L957.9 193.7 L960.3 194.7 L962.7 194.9 L965.2 196.0 L967.6 196.8 L969.7 198.7 L971.4 198.4 L972.8 198.8 L974.3 198.4 L976.0 199.4 L978.1 199.0 L980.5 198.4 L983.0 196.7 L985.4 195.7 L987.8 196.8 L990.1 198.1 L992.5 200.2 L994.8 201.1 L997.3 201.8 L999.7 203.0 L1002.1 202.6 L1004.2 203.5 L1006.0 200.1 L1007.4 197.3 L1008.8 195.3 L1010.5 196.0 L1012.7 197.3 L1015.0 197.6 L1017.5 197.4 L1019.9 198.1 L1022.3 198.1 L1024.7 199.5 L1027.0 200.7 L1029.4 201.4 L1031.7 201.5 L1034.1 200.3 L1036.4 199.5 L1038.8 198.9 L1041.2 198.6 L1043.6 199.0 L1046.0 198.1 L1048.2 199.1 L1050.3 197.9 L1052.4 199.2 L1054.3 198.3 L1056.1 200.5 L1057.7 201.4 L1059.2 203.8 L1060.5 205.2 L1061.4 206.0" fill="none" stroke="#A00000" stroke-width="4.2" stroke-linejoin="round" stroke-linecap="round"/>
<rect x="674.50" y="43.30" width="387.00" height="311.90" fill="none" stroke="#000" stroke-width="2.2"/>
<line x1="668.50" y1="355.20" x2="674.50" y2="355.20" stroke="#000" stroke-width="2.2"/>
<text transform="translate(663.50 365.50) scale(1 1.03)" font-size="31.8" text-anchor="end">0</text>
<line x1="668.50" y1="263.50" x2="674.50" y2="263.50" stroke="#000" stroke-width="2.2"/>
<text transform="translate(663.50 273.80) scale(1 1.03)" font-size="31.8" text-anchor="end">5</text>
<line x1="668.50" y1="171.20" x2="674.50" y2="171.20" stroke="#000" stroke-width="2.2"/>
<text transform="translate(663.50 181.50) scale(1 1.03)" font-size="31.8" text-anchor="end">10</text>
<line x1="668.50" y1="79.80" x2="674.50" y2="79.80" stroke="#000" stroke-width="2.2"/>
<text transform="translate(663.50 90.10) scale(1 1.03)" font-size="31.8" text-anchor="end">15</text>
<line x1="674.25" y1="355.20" x2="674.25" y2="361.20" stroke="#000" stroke-width="2.2"/>
<text transform="translate(674.25 390.70) scale(1 1.03)" font-size="31.8" text-anchor="middle">0</text>
<line x1="771.00" y1="355.20" x2="771.00" y2="361.20" stroke="#000" stroke-width="2.2"/>
<text transform="translate(771.00 390.70) scale(1 1.03)" font-size="31.8" text-anchor="middle">5</text>
<line x1="867.75" y1="355.20" x2="867.75" y2="361.20" stroke="#000" stroke-width="2.2"/>
<text transform="translate(867.75 390.70) scale(1 1.03)" font-size="31.8" text-anchor="middle">10</text>
<line x1="964.50" y1="355.20" x2="964.50" y2="361.20" stroke="#000" stroke-width="2.2"/>
<text transform="translate(964.50 390.70) scale(1 1.03)" font-size="31.8" text-anchor="middle">15</text>
<line x1="1061.25" y1="355.20" x2="1061.25" y2="361.20" stroke="#000" stroke-width="2.2"/>
<text transform="translate(1061.25 390.70) scale(1 1.03)" font-size="31.8" text-anchor="middle">20</text>
<text transform="translate(868.50 442.70) scale(1 1.03)" font-size="34" text-anchor="middle">Displacement (mm)</text>
<text transform="translate(606.80 198.00) rotate(-90) scale(1 1.03)" font-size="36" text-anchor="middle">Extrusion force (N)</text>
<line x1="790.50" y1="71.00" x2="837.50" y2="71.00" stroke="#B3B3B3" stroke-width="4.2"/>
<text transform="translate(843.50 77.60) scale(1 1.03)" font-size="29.3">CAHP-8%</text>
<line x1="793.00" y1="107.00" x2="835.60" y2="107.00" stroke="#23446A" stroke-width="4.2"/>
<text transform="translate(843.50 113.60) scale(1 1.03)" font-size="29.3">CAHP-10%</text>
<line x1="793.00" y1="143.00" x2="835.60" y2="143.00" stroke="#A00000" stroke-width="4.2"/>
<text transform="translate(843.50 149.60) scale(1 1.03)" font-size="29.3">CAHP-12%</text>
<g clip-path="url(#cp_c)">
<rect x="1244.20" y="70.80" width="101.90" height="181.00" fill="url(#gc_bg)"/>
<path d="M1267 70.8 L1323 70.8 L1323 96 Q1310 108 1295 108.5 Q1280 108 1267 96 Z" fill="url(#steel)"/>
<rect x="1279.00" y="70.80" width="34.00" height="22.00" fill="#a5977a"/>
<rect x="1293.00" y="70.80" width="4.00" height="30.00" fill="#4a4a50"/>
<rect x="1282.00" y="72.00" width="8.00" height="6.00" fill="#3d3a36" rx="2"/>
<rect x="1301.00" y="72.00" width="8.00" height="6.00" fill="#3d3a36" rx="2"/>
<rect x="1249.70" y="76.00" width="17.00" height="15.00" fill="url(#brass)" rx="3"/>
<rect x="1262.00" y="79.00" width="6.00" height="9.00" fill="#6a5c40"/>
<rect x="1324.00" y="75.00" width="18.50" height="14.50" fill="url(#steel)" rx="3"/>
<rect x="1322.00" y="78.00" width="5.00" height="9.00" fill="#6a5c40"/>
<rect x="1289.50" y="104.00" width="7.50" height="58.00" fill="#f1f4f8"/>
<rect x="1290.50" y="110.00" width="3.00" height="0.80" fill="#8a8f98"/>
<rect x="1290.50" y="116.00" width="3.00" height="0.80" fill="#8a8f98"/>
<rect x="1290.50" y="122.00" width="3.00" height="0.80" fill="#8a8f98"/>
<rect x="1290.50" y="128.00" width="3.00" height="0.80" fill="#8a8f98"/>
<rect x="1290.50" y="134.00" width="3.00" height="0.80" fill="#8a8f98"/>
<rect x="1290.50" y="140.00" width="3.00" height="0.80" fill="#8a8f98"/>
<rect x="1290.50" y="146.00" width="3.00" height="0.80" fill="#8a8f98"/>
<rect x="1290.50" y="152.00" width="3.00" height="0.80" fill="#8a8f98"/>
<rect x="1290.50" y="158.00" width="3.00" height="0.80" fill="#8a8f98"/>
<rect x="1290.20" y="162.00" width="6.00" height="26.00" fill="#262a32"/>
<rect x="1289.00" y="186.00" width="8.00" height="7.00" fill="#3a3e46"/>
<rect x="1286.50" y="193.00" width="9.50" height="32.00" fill="#2f72d8"/>
<path d="M1288 204 L1307.5 204.5 L1307.5 210.5 L1288 210.5 Z" fill="#3b86ea"/>
<circle cx="1292.00" cy="207.50" r="1.8" fill="#112244"/>
<path d="M1275 201 L1287 199 L1287 206 L1275 207 Z" fill="#d8dce4"/>
<path d="M1266 232 Q1268 216 1292 215 Q1316 216 1318 232 L1318 252 L1266 252 Z" fill="url(#steel)"/>
<rect x="1287.00" y="225.00" width="12.00" height="27.00" fill="#33373f"/>
<rect x="1278.00" y="235.00" width="6.00" height="17.00" fill="#5d626b"/>
<rect x="1302.00" y="235.00" width="6.00" height="17.00" fill="#5d626b"/>
<rect x="1250.00" y="230.00" width="16.00" height="13.00" fill="url(#brass)" rx="3"/>
<rect x="1318.00" y="230.00" width="13.00" height="12.00" fill="url(#steel)" rx="3"/>
<rect x="1308.00" y="135.00" width="10.00" height="53.00" fill="url(#gc_ar)"/>
<path d="M1304.2 188.2 L1321.7 188.2 L1313 197.3 Z" fill="#5b9bd5"/>
</g>
<text transform="translate(1281.00 127.00) scale(1 1.03)" font-size="25">Force</text>
<rect x="1272.40" y="292.10" width="35.70" height="63.40" fill="#B3B3B3"/>
<rect x="1360.10" y="194.20" width="35.70" height="161.30" fill="#23446A"/>
<rect x="1447.20" y="75.70" width="35.90" height="279.80" fill="#A00000"/>
<line x1="1465.30" y1="75.70" x2="1465.30" y2="68.20" stroke="#A00000" stroke-width="2.2"/>
<line x1="1462.30" y1="68.20" x2="1468.30" y2="68.20" stroke="#A00000" stroke-width="2.2"/>
<line x1="1377.90" y1="194.20" x2="1377.90" y2="188.20" stroke="#23446A" stroke-width="2.2"/>
<line x1="1374.90" y1="188.20" x2="1380.90" y2="188.20" stroke="#23446A" stroke-width="2.2"/>
<line x1="1290.30" y1="292.10" x2="1290.30" y2="285.80" stroke="#9a9a9a" stroke-width="2.2"/>
<line x1="1287.30" y1="285.80" x2="1293.30" y2="285.80" stroke="#9a9a9a" stroke-width="2.2"/>
<circle cx="1272.75" cy="293.75" r="3.6" fill="#9E9E9E"/>
<circle cx="1281.30" cy="299.80" r="3.6" fill="#9E9E9E"/>
<circle cx="1290.35" cy="287.90" r="3.6" fill="#9E9E9E"/>
<circle cx="1298.90" cy="296.50" r="3.6" fill="#9E9E9E"/>
<circle cx="1307.70" cy="283.10" r="3.6" fill="#9E9E9E"/>
<circle cx="1360.40" cy="202.20" r="3.6" fill="#C4D5E9" fill-opacity="0.95"/>
<circle cx="1369.10" cy="191.80" r="3.6" fill="#C4D5E9" fill-opacity="0.95"/>
<circle cx="1377.90" cy="185.50" r="3.6" fill="#C4D5E9" fill-opacity="0.95"/>
<circle cx="1386.60" cy="197.50" r="3.6" fill="#C4D5E9" fill-opacity="0.95"/>
<circle cx="1395.30" cy="194.50" r="3.6" fill="#C4D5E9" fill-opacity="0.95"/>
<circle cx="1447.80" cy="75.90" r="3.6" fill="#F8B4B4" fill-opacity="0.95"/>
<circle cx="1456.50" cy="68.40" r="3.6" fill="#F8B4B4" fill-opacity="0.95"/>
<circle cx="1465.30" cy="88.50" r="3.6" fill="#F8B4B4" fill-opacity="0.95"/>
<circle cx="1474.00" cy="71.00" r="3.6" fill="#F8B4B4" fill-opacity="0.95"/>
<circle cx="1482.70" cy="75.30" r="3.6" fill="#F8B4B4" fill-opacity="0.95"/>
<rect x="1229.20" y="42.30" width="297.60" height="313.20" fill="none" stroke="#000" stroke-width="2.2"/>
<line x1="1224.20" y1="355.50" x2="1229.20" y2="355.50" stroke="#000" stroke-width="2.2"/>
<text transform="translate(1220.20 365.50) scale(1 1.03)" font-size="32.5" text-anchor="end">0</text>
<line x1="1224.20" y1="292.86" x2="1229.20" y2="292.86" stroke="#000" stroke-width="2.2"/>
<text transform="translate(1220.20 302.86) scale(1 1.03)" font-size="32.5" text-anchor="end">2</text>
<line x1="1224.20" y1="230.22" x2="1229.20" y2="230.22" stroke="#000" stroke-width="2.2"/>
<text transform="translate(1220.20 240.22) scale(1 1.03)" font-size="32.5" text-anchor="end">4</text>
<line x1="1224.20" y1="167.58" x2="1229.20" y2="167.58" stroke="#000" stroke-width="2.2"/>
<text transform="translate(1220.20 177.58) scale(1 1.03)" font-size="32.5" text-anchor="end">6</text>
<line x1="1224.20" y1="104.94" x2="1229.20" y2="104.94" stroke="#000" stroke-width="2.2"/>
<text transform="translate(1220.20 114.94) scale(1 1.03)" font-size="32.5" text-anchor="end">8</text>
<line x1="1224.20" y1="42.30" x2="1229.20" y2="42.30" stroke="#000" stroke-width="2.2"/>
<text transform="translate(1220.20 52.30) scale(1 1.03)" font-size="32.5" text-anchor="end">10</text>
<line x1="1290.30" y1="355.50" x2="1290.30" y2="361.50" stroke="#000" stroke-width="2.2"/>
<line x1="1378.00" y1="355.50" x2="1378.00" y2="361.50" stroke="#000" stroke-width="2.2"/>
<line x1="1465.30" y1="355.50" x2="1465.30" y2="361.50" stroke="#000" stroke-width="2.2"/>
<text transform="translate(1310.30 388.00) rotate(-30) scale(1 1.03)" font-size="34" text-anchor="end">CAHP-8%</text>
<text transform="translate(1398.00 388.00) rotate(-30) scale(1 1.03)" font-size="34" text-anchor="end">CAHP-10%</text>
<text transform="translate(1485.30 388.00) rotate(-30) scale(1 1.03)" font-size="34" text-anchor="end">CAHP-12%</text>
<text transform="translate(1165.20 198.40) rotate(-90) scale(1 1.03)" font-size="34.1" text-anchor="middle">Injection force (N)</text>
<rect x="1728.20" y="264.20" width="35.10" height="90.60" fill="#B3B3B3"/>
<rect x="1815.00" y="187.20" width="35.70" height="167.60" fill="#23446A"/>
<rect x="1902.00" y="106.80" width="36.00" height="248.00" fill="#A00000"/>
<line x1="1832.90" y1="187.20" x2="1832.90" y2="165.70" stroke="#23446A" stroke-width="2.2"/>
<line x1="1829.90" y1="165.70" x2="1835.90" y2="165.70" stroke="#23446A" stroke-width="2.2"/>
<line x1="1919.90" y1="106.80" x2="1919.90" y2="91.80" stroke="#A00000" stroke-width="2.2"/>
<line x1="1916.90" y1="91.80" x2="1922.90" y2="91.80" stroke="#A00000" stroke-width="2.2"/>
<circle cx="1732.50" cy="263.50" r="3.8" fill="#9E9E9E"/>
<circle cx="1745.50" cy="262.70" r="3.8" fill="#9E9E9E"/>
<circle cx="1758.40" cy="266.60" r="3.8" fill="#9E9E9E"/>
<circle cx="1819.90" cy="198.00" r="3.8" fill="#C4D5E9"/>
<circle cx="1832.90" cy="202.60" r="3.8" fill="#C4D5E9"/>
<circle cx="1845.80" cy="162.40" r="3.8" fill="#C4D5E9"/>
<circle cx="1907.00" cy="120.90" r="3.8" fill="#F8B4B4"/>
<circle cx="1919.90" cy="110.60" r="3.8" fill="#F8B4B4"/>
<circle cx="1933.10" cy="90.50" r="3.8" fill="#F8B4B4"/>
<rect x="1684.20" y="41.60" width="297.50" height="313.20" fill="none" stroke="#000" stroke-width="2.2"/>
<line x1="1679.20" y1="354.80" x2="1684.20" y2="354.80" stroke="#000" stroke-width="2.2"/>
<text transform="translate(1675.20 364.80) scale(1 1.03)" font-size="32.5" text-anchor="end">0</text>
<line x1="1679.20" y1="292.16" x2="1684.20" y2="292.16" stroke="#000" stroke-width="2.2"/>
<text transform="translate(1675.20 302.16) scale(1 1.03)" font-size="32.5" text-anchor="end">10</text>
<line x1="1679.20" y1="229.52" x2="1684.20" y2="229.52" stroke="#000" stroke-width="2.2"/>
<text transform="translate(1675.20 239.52) scale(1 1.03)" font-size="32.5" text-anchor="end">20</text>
<line x1="1679.20" y1="166.88" x2="1684.20" y2="166.88" stroke="#000" stroke-width="2.2"/>
<text transform="translate(1675.20 176.88) scale(1 1.03)" font-size="32.5" text-anchor="end">30</text>
<line x1="1679.20" y1="104.24" x2="1684.20" y2="104.24" stroke="#000" stroke-width="2.2"/>
<text transform="translate(1675.20 114.24) scale(1 1.03)" font-size="32.5" text-anchor="end">40</text>
<line x1="1679.20" y1="41.60" x2="1684.20" y2="41.60" stroke="#000" stroke-width="2.2"/>
<text transform="translate(1675.20 51.60) scale(1 1.03)" font-size="32.5" text-anchor="end">50</text>
<line x1="1745.40" y1="354.80" x2="1745.40" y2="360.80" stroke="#000" stroke-width="2.2"/>
<line x1="1832.60" y1="354.80" x2="1832.60" y2="360.80" stroke="#000" stroke-width="2.2"/>
<line x1="1919.80" y1="354.80" x2="1919.80" y2="360.80" stroke="#000" stroke-width="2.2"/>
<text transform="translate(1764.60 388.20) rotate(-30) scale(1 1.03)" font-size="34" text-anchor="end">CAHP-8%</text>
<text transform="translate(1851.80 388.20) rotate(-30) scale(1 1.03)" font-size="34" text-anchor="end">CAHP-10%</text>
<text transform="translate(1939.00 388.20) rotate(-30) scale(1 1.03)" font-size="34" text-anchor="end">CAHP-12%</text>
<text transform="translate(1621.00 233.00) rotate(-90) scale(1 1.03)" font-size="34.5" text-anchor="middle">Young's modulus (kPa)</text>
<g clip-path="url(#cp_pe1)">
<rect x="148.20" y="568.80" width="150.80" height="84.70" fill="url(#pe1)"/>
<rect x="148.20" y="623.00" width="150.80" height="30.50" fill="#e8eff8"/>
<path d="M220 568.8 Q212 580 208 589 Q202 596 201.2 601 Q201 611 206 614 Q212 617 218 616.5 Q226 615.5 233 609 L277.7 568.8 Z" fill="url(#glove1)"/>
<path d="M288 568.8 L299 568.8 L299 577.5 Q292 577 289 572 Z" fill="#2a60f0"/>
<path d="M209 639 L230 639 L230 653.5 L209 653.5 Z" fill="url(#refl)"/>
<path d="M209.5 622 Q219 617 229.5 621 L230.5 637 Q219 641.5 209 638 Z" fill="#0c0f10"/>
<rect x="226.00" y="624.00" width="2.00" height="10.00" fill="#6a7280"/>
</g>
<g clip-path="url(#cp_pe2)">
<rect x="321.40" y="568.80" width="150.60" height="84.70" fill="url(#pe2)"/>
<rect x="321.40" y="623.00" width="150.60" height="30.50" fill="#e8eff8"/>
<path d="M412 568.8 Q400 580 391.6 589 Q382 600 378 609.3 Q376 616 377.2 619.5 Q378 624 381.4 625.5 L410.3 625.5 Q428 610 446 594 Q458 597 472 598.3 L472 568.8 Z" fill="url(#glove2)"/>
<path d="M378 636 L412 636 L423 653.5 L378 653.5 Z" fill="url(#refl)"/>
<path d="M379 627.5 Q395 624.5 411 627.5 L411.5 634 Q395 637.5 379 634.5 Z" fill="#0c0f10"/>
</g>
<path d="M118.5 859.4 L147.1 859.3 L188.7 859.3 L231.6 859.2 L264.0 859.1 L281.6 859.1 L291.0 859.1 L297.2 859.0 L305.0 858.9 L315.7 858.8 L326.8 858.6 L337.2 858.3 L346.0 858.1 L352.5 857.9 L357.4 857.7 L361.7 857.5 L366.5 857.3 L372.0 857.1 L377.7 856.8 L383.3 856.6 L388.6 856.3 L393.8 855.9 L398.8 855.5 L403.5 855.0 L407.5 854.6 L410.7 854.3 L413.2 853.9 L415.4 853.6 L417.8 853.2 L420.3 852.8 L422.9 852.3 L425.4 851.8 L428.0 851.2 L430.6 850.5 L433.1 849.8 L435.7 849.0 L438.3 848.1 L440.9 847.0 L443.5 845.7 L446.1 844.4 L448.5 843.0 L450.7 841.5 L452.9 839.9 L454.8 838.4 L456.7 836.8 L458.4 835.3 L459.9 833.9 L461.4 832.3 L462.9 830.7 L464.4 828.8 L465.9 826.8 L467.5 824.7 L469.0 822.5 L470.6 820.0 L472.2 817.3 L473.8 814.6 L475.2 812.2 L476.4 810.0 L477.6 808.0 L478.6 806.2 L479.3 805.0" fill="none" stroke="#B3B3B3" stroke-width="4.2" stroke-linejoin="round" stroke-linecap="round"/>
<path d="M118.5 859.4 L130.4 859.3 L147.7 859.3 L166.2 859.2 L182.0 859.1 L193.8 859.1 L203.9 859.0 L213.3 858.9 L223.0 858.7 L233.4 858.6 L243.9 858.4 L254.2 858.1 L264.0 857.9 L273.2 857.7 L282.0 857.5 L290.3 857.2 L298.2 856.9 L305.7 856.5 L312.7 856.1 L319.3 855.7 L325.5 855.3 L331.3 854.9 L336.8 854.5 L341.8 854.2 L346.0 853.8 L349.3 853.4 L351.8 853.0 L353.9 852.6 L356.3 852.2 L358.8 851.7 L361.4 851.2 L363.9 850.6 L366.5 850.1 L369.0 849.7 L371.5 849.2 L374.1 848.7 L376.8 848.1 L379.7 847.2 L382.8 846.1 L385.9 845.0 L388.6 844.0 L391.0 843.2 L393.1 842.4 L395.1 841.7 L397.3 840.9 L399.7 840.0 L402.3 839.0 L404.9 837.9 L407.5 836.8 L410.1 835.6 L412.6 834.4 L415.2 833.1 L417.8 831.7 L420.3 830.1 L422.9 828.3 L425.4 826.4 L428.0 824.5 L430.6 822.6 L433.1 820.7 L435.7 818.7 L438.3 816.3 L440.9 813.5 L443.5 810.4 L446.1 807.2 L448.5 804.0 L450.7 800.9 L452.9 797.9 L454.8 794.8 L456.7 791.7 L458.4 788.7 L459.9 785.8 L461.4 782.8 L462.9 779.4 L464.4 775.6 L465.9 771.5 L467.5 767.2 L469.0 763.0 L470.6 758.8 L472.2 754.4 L473.8 750.3 L475.2 746.6 L476.4 743.4 L477.6 740.5 L478.6 738.0 L479.3 736.4" fill="none" stroke="#23446A" stroke-width="4.2" stroke-linejoin="round" stroke-linecap="round"/>
<path d="M118.5 859.4 L122.6 859.3 L128.4 859.2 L135.0 859.1 L141.0 858.9 L146.3 858.8 L151.4 858.6 L156.4 858.5 L161.5 858.3 L166.5 858.2 L171.4 858.1 L176.5 857.9 L182.0 857.7 L188.4 857.4 L195.5 857.0 L202.4 856.6 L208.2 856.3 L212.6 856.1 L216.0 856.0 L219.2 855.9 L223.0 855.7 L227.7 855.3 L232.9 854.7 L238.2 854.2 L243.5 853.6 L248.6 853.1 L253.8 852.6 L258.9 852.1 L264.0 851.6 L269.3 850.9 L274.7 850.2 L279.9 849.4 L284.5 848.7 L288.3 848.0 L291.6 847.2 L294.7 846.4 L298.2 845.6 L302.4 844.7 L307.0 843.8 L311.4 842.8 L315.3 841.9 L318.3 841.1 L320.8 840.4 L323.1 839.6 L325.5 838.9 L328.1 838.1 L330.6 837.4 L333.2 836.6 L335.8 835.8 L338.3 834.8 L340.9 833.8 L343.4 832.7 L346.0 831.7 L348.6 830.7 L351.1 829.7 L353.7 828.7 L356.3 827.6 L358.8 826.4 L361.4 825.1 L363.9 823.8 L366.5 822.5 L369.0 821.2 L371.5 820.0 L374.1 818.8 L376.8 817.3 L379.7 815.7 L382.8 813.8 L385.9 811.9 L388.6 810.2 L391.0 808.6 L393.1 807.1 L395.1 805.7 L397.3 804.0 L399.7 802.1 L402.4 800.0 L405.0 797.9 L407.5 795.8 L409.7 793.8 L411.7 791.7 L413.7 789.7 L415.7 787.6 L417.8 785.6 L419.8 783.6 L421.9 781.5 L423.9 779.4 L426.0 777.2 L428.0 774.9 L430.1 772.6 L432.1 770.2 L434.2 767.7 L436.2 765.2 L438.3 762.6 L440.3 759.9 L442.4 757.2 L444.5 754.4 L446.6 751.6 L448.5 748.7 L450.2 745.7 L451.7 742.7 L453.2 739.6 L454.7 736.4 L456.2 733.0 L457.7 729.4 L459.3 725.8 L460.8 722.0 L462.3 718.1 L463.9 714.1 L465.4 709.9 L467.0 705.6 L468.5 701.2 L470.1 696.6 L471.6 691.9 L473.1 687.2 L474.7 681.9 L476.4 676.3 L477.8 671.2 L478.8 667.7" fill="none" stroke="#A00000" stroke-width="4.2" stroke-linejoin="round" stroke-linecap="round"/>
<rect x="118.20" y="550.40" width="383.80" height="309.20" fill="none" stroke="#000" stroke-width="2.2"/>
<line x1="112.20" y1="859.70" x2="118.20" y2="859.70" stroke="#000" stroke-width="2.2"/>
<text transform="translate(108.20 869.70) scale(1 1.03)" font-size="32.5" text-anchor="end">0.0</text>
<line x1="112.20" y1="797.50" x2="118.20" y2="797.50" stroke="#000" stroke-width="2.2"/>
<text transform="translate(108.20 807.50) scale(1 1.03)" font-size="32.5" text-anchor="end">0.1</text>
<line x1="112.20" y1="735.80" x2="118.20" y2="735.80" stroke="#000" stroke-width="2.2"/>
<text transform="translate(108.20 745.80) scale(1 1.03)" font-size="32.5" text-anchor="end">0.2</text>
<line x1="112.20" y1="674.20" x2="118.20" y2="674.20" stroke="#000" stroke-width="2.2"/>
<text transform="translate(108.20 684.20) scale(1 1.03)" font-size="32.5" text-anchor="end">0.3</text>
<line x1="112.20" y1="612.60" x2="118.20" y2="612.60" stroke="#000" stroke-width="2.2"/>
<text transform="translate(108.20 622.60) scale(1 1.03)" font-size="32.5" text-anchor="end">0.4</text>
<line x1="112.20" y1="550.60" x2="118.20" y2="550.60" stroke="#000" stroke-width="2.2"/>
<text transform="translate(108.20 560.60) scale(1 1.03)" font-size="32.5" text-anchor="end">0.5</text>
<line x1="118.50" y1="859.60" x2="118.50" y2="865.60" stroke="#000" stroke-width="2.2"/>
<text transform="translate(118.50 895.60) scale(1 1.03)" font-size="32.5" text-anchor="middle">0</text>
<line x1="208.20" y1="859.60" x2="208.20" y2="865.60" stroke="#000" stroke-width="2.2"/>
<text transform="translate(208.20 895.60) scale(1 1.03)" font-size="32.5" text-anchor="middle">20</text>
<line x1="298.20" y1="859.60" x2="298.20" y2="865.60" stroke="#000" stroke-width="2.2"/>
<text transform="translate(298.20 895.60) scale(1 1.03)" font-size="32.5" text-anchor="middle">40</text>
<line x1="388.60" y1="859.60" x2="388.60" y2="865.60" stroke="#000" stroke-width="2.2"/>
<text transform="translate(388.60 895.60) scale(1 1.03)" font-size="32.5" text-anchor="middle">60</text>
<line x1="478.90" y1="859.60" x2="478.90" y2="865.60" stroke="#000" stroke-width="2.2"/>
<text transform="translate(478.90 895.60) scale(1 1.03)" font-size="32.5" text-anchor="middle">80</text>
<text transform="translate(309.50 946.00) scale(1 1.03)" font-size="34" text-anchor="middle">Strain (%)</text>
<text transform="translate(38.50 740.80) rotate(-90) scale(1 1.03)" font-size="34" text-anchor="middle">Compression stress (MPa)</text>
<line x1="179.50" y1="720.40" x2="211.10" y2="720.40" stroke="#B3B3B3" stroke-width="4.2"/>
<text transform="translate(217.00 725.90) scale(1 1.03)" font-size="29">CAHP-8%</text>
<line x1="181.60" y1="756.40" x2="209.70" y2="756.40" stroke="#23446A" stroke-width="4.2"/>
<text transform="translate(217.00 761.90) scale(1 1.03)" font-size="29">CAHP-10%</text>
<line x1="181.60" y1="791.70" x2="209.70" y2="791.70" stroke="#A00000" stroke-width="4.2"/>
<text transform="translate(217.00 797.20) scale(1 1.03)" font-size="29">CAHP-12%</text>
<g clip-path="url(#cp_pf1)">
<rect x="667.10" y="563.20" width="150.00" height="86.50" fill="url(#pf1)"/>
<path d="M703.5 610 Q706 607 708.5 610 L711.5 649.7 L703.8 649.7 Z" fill="#3a3a3e"/>
<rect x="704.00" y="640.00" width="7.50" height="10.00" fill="#8c8460"/>
<path d="M752 605 Q760 601 768 604 Q775 600 781 604 L782 622 Q770 619 760 623 Q749 625 748.5 616 Q748 608 752 605 Z" fill="#0a0c0c"/>
<path d="M774 606 Q778 601 782 604 L784 649.7 L775 649.7 Z" fill="url(#twf1)"/>
</g>
<g clip-path="url(#cp_pf2)">
<rect x="840.20" y="562.70" width="150.60" height="86.10" fill="url(#pf2)"/>
<path d="M878 606 Q885 602 895 605 Q910 608 925 604 Q935 601 945 601 Q950 603 949 612 L948 624 Q935 621 925 622 Q905 626 893 626 Q880 627 877 620 Q876 610 878 606 Z" fill="#060808"/>
<path d="M878 610 L886 610 L887 648.8 L879 648.8 Z" fill="url(#twf)"/>
<path d="M939 604 L947 603 L950 648.8 L941 648.8 Z" fill="url(#twf)"/>
</g>
<path d="M638.0 858.6 L640.3 858.3 L642.5 858.0 L644.8 857.7 L647.1 857.3 L649.3 856.0 L651.6 857.2 L653.8 856.1 L656.1 856.1 L658.4 854.7 L660.6 854.5 L662.9 853.6 L665.2 852.8 L667.4 852.7 L669.7 851.4 L672.0 851.2 L674.2 851.1 L676.5 850.1 L678.8 849.2 L681.0 849.8 L683.3 848.0 L685.5 847.0 L687.8 846.7 L690.1 845.7 L692.3 845.1 L694.6 844.4 L696.9 845.0 L699.1 843.3 L701.4 842.7 L703.7 842.2 L705.9 842.2 L708.2 840.4 L710.5 839.6 L712.7 840.4 L715.0 837.8 L717.2 837.6 L719.5 837.5 L721.8 837.6 L724.0 835.3 L726.3 833.9 L728.6 834.8 L730.8 833.5 L733.1 833.0 L735.4 832.9 L737.6 832.2 L739.9 831.7 L742.2 830.7 L744.4 831.0 L746.7 830.6 L748.9 829.3 L751.2 828.5 L753.5 828.5 L755.7 827.8 L758.0 826.5 L760.3 826.2 L762.5 826.4 L764.8 825.3 L767.1 824.6 L769.3 824.3 L771.6 823.6 L773.8 823.0 L776.1 821.5 L778.4 822.8 L780.6 821.4 L782.9 820.3 L785.2 820.7 L787.4 819.8 L789.7 819.1 L792.0 819.0 L794.2 819.1 L796.5 817.7 L798.8 817.6 L801.0 817.3 L803.3 815.2 L805.5 814.9 L807.8 814.9 L810.1 813.1 L812.3 813.3 L814.6 813.5 L816.9 812.8 L819.1 812.0 L821.4 810.2 L823.7 811.8 L825.9 810.3 L828.2 809.8 L830.5 809.2 L832.7 807.6 L835.0 807.3 L837.2 806.9 L839.5 808.1 L841.8 806.2 L844.0 806.1 L846.3 805.6 L848.6 805.6 L850.8 805.1 L853.1 804.5 L855.4 803.3 L857.6 801.9 L859.9 803.1 L862.2 802.7 L864.4 802.7 L866.7 801.6 L868.9 800.9 L871.2 801.0 L873.5 799.7 L875.7 799.6 L878.0 799.3 L880.3 799.6 L882.5 800.2 L884.8 799.2 L887.1 799.0 L889.3 798.2 L891.6 798.1 L893.8 797.6 L896.1 797.6 L898.4 796.4 L900.6 796.9 L902.9 796.7 L905.2 797.7 L907.4 797.5 L909.7 797.6 L912.0 797.7 L914.2 796.6 L916.5 797.2 L918.8 797.5 L921.0 796.4 L923.3 798.4 L925.5 800.4 L927.8 800.3 L930.1 801.4 L932.3 801.0 L934.6 801.7 L936.9 801.5 L939.1 802.1 L941.4 800.7 L943.7 802.5 L945.9 801.8 L948.2 800.7 L950.5 800.1 L952.7 800.2 L955.0 800.3 L957.2 800.2 L959.5 800.2 L961.8 799.0 L964.0 799.4 L966.3 800.7 L968.6 801.3 L970.8 803.5 L973.1 804.6 L975.4 805.1 L977.6 806.5 L979.9 807.3 L982.2 808.3 L984.4 812.8 L986.7 817.4 L988.9 821.9 L991.2 826.4 L993.5 830.9 L995.7 838.9 L998.0 848.0 L999.0 858.2 L638.0 858.2" fill="none" stroke="#B3B3B3" stroke-width="3.6" stroke-linejoin="round" stroke-linecap="round"/>
<path d="M638.0 858.6 L650.0 850.0 L670.0 839.0 L686.0 829.0 L700.0 817.0 L714.0 803.0 L726.0 792.0 L736.0 784.0 L742.0 782.0 L750.0 775.0 L760.0 770.0 L770.0 767.0 L780.0 766.4 L790.0 765.4 L800.0 761.0 L810.0 757.0 L820.0 754.0 L830.0 752.0 L836.0 752.0 L842.0 755.0 L850.0 764.0 L856.0 767.0 L870.0 768.0 L880.0 770.0 L888.0 772.4 L889.0 800.0 L890.0 824.0 L892.0 836.0 L892.0 858.2 L638.0 858.2" fill="none" stroke="#23446A" stroke-width="3.0" stroke-linejoin="round" stroke-linecap="round"/>
<path d="M638.0 858.6 L646.0 844.0 L654.0 824.0 L664.0 802.0 L674.0 782.0 L684.0 766.0 L694.0 750.0 L702.0 739.0 L712.0 728.0 L722.0 717.0 L730.0 708.0 L736.0 701.0 L740.0 697.0 L743.0 698.0 L744.0 708.0 L745.0 717.0 L748.0 722.0 L752.0 719.6 L758.0 720.0 L762.0 725.0 L768.0 725.0 L774.0 722.4 L779.0 723.6 L779.0 858.0 L638.0 858.0" fill="none" stroke="#A00000" stroke-width="3.0" stroke-linejoin="round" stroke-linecap="round"/>
<rect x="638.00" y="549.30" width="384.00" height="309.30" fill="none" stroke="#000" stroke-width="2.2"/>
<line x1="632.00" y1="858.60" x2="638.00" y2="858.60" stroke="#000" stroke-width="2.2"/>
<text transform="translate(628.00 868.60) scale(1 1.03)" font-size="32.5" text-anchor="end">0</text>
<line x1="632.00" y1="802.60" x2="638.00" y2="802.60" stroke="#000" stroke-width="2.2"/>
<text transform="translate(628.00 812.60) scale(1 1.03)" font-size="32.5" text-anchor="end">20</text>
<line x1="632.00" y1="746.60" x2="638.00" y2="746.60" stroke="#000" stroke-width="2.2"/>
<text transform="translate(628.00 756.60) scale(1 1.03)" font-size="32.5" text-anchor="end">40</text>
<line x1="632.00" y1="690.60" x2="638.00" y2="690.60" stroke="#000" stroke-width="2.2"/>
<text transform="translate(628.00 700.60) scale(1 1.03)" font-size="32.5" text-anchor="end">60</text>
<line x1="632.00" y1="634.60" x2="638.00" y2="634.60" stroke="#000" stroke-width="2.2"/>
<text transform="translate(628.00 644.60) scale(1 1.03)" font-size="32.5" text-anchor="end">80</text>
<line x1="632.00" y1="578.60" x2="638.00" y2="578.60" stroke="#000" stroke-width="2.2"/>
<text transform="translate(628.00 588.60) scale(1 1.03)" font-size="32.5" text-anchor="end">100</text>
<line x1="638.00" y1="858.60" x2="638.00" y2="864.60" stroke="#000" stroke-width="2.2"/>
<text transform="translate(638.00 894.60) scale(1 1.03)" font-size="32.5" text-anchor="middle">0</text>
<line x1="707.60" y1="858.60" x2="707.60" y2="864.60" stroke="#000" stroke-width="2.2"/>
<text transform="translate(707.60 894.60) scale(1 1.03)" font-size="32.5" text-anchor="middle">100</text>
<line x1="777.20" y1="858.60" x2="777.20" y2="864.60" stroke="#000" stroke-width="2.2"/>
<text transform="translate(777.20 894.60) scale(1 1.03)" font-size="32.5" text-anchor="middle">200</text>
<line x1="846.80" y1="858.60" x2="846.80" y2="864.60" stroke="#000" stroke-width="2.2"/>
<text transform="translate(846.80 894.60) scale(1 1.03)" font-size="32.5" text-anchor="middle">300</text>
<line x1="916.40" y1="858.60" x2="916.40" y2="864.60" stroke="#000" stroke-width="2.2"/>
<text transform="translate(916.40 894.60) scale(1 1.03)" font-size="32.5" text-anchor="middle">400</text>
<line x1="986.00" y1="858.60" x2="986.00" y2="864.60" stroke="#000" stroke-width="2.2"/>
<text transform="translate(986.00 894.60) scale(1 1.03)" font-size="32.5" text-anchor="middle">500</text>
<text transform="translate(829.50 946.00) scale(1 1.03)" font-size="34" text-anchor="middle">Strain (%)</text>
<text transform="translate(562.40 715.70) rotate(-90) scale(1 1.03)" font-size="33.3" text-anchor="middle">Tensile stress (kPa)</text>
<line x1="828.00" y1="670.40" x2="859.00" y2="670.40" stroke="#B3B3B3" stroke-width="3.0"/>
<text transform="translate(870.50 676.40) scale(1 1.03)" font-size="29">CAHP-8%</text>
<line x1="829.40" y1="706.40" x2="858.00" y2="706.40" stroke="#23446A" stroke-width="3.0"/>
<text transform="translate(866.00 712.40) scale(1 1.03)" font-size="29">CAHP-10%</text>
<line x1="829.40" y1="741.40" x2="858.00" y2="741.40" stroke="#A00000" stroke-width="3.0"/>
<text transform="translate(866.00 747.40) scale(1 1.03)" font-size="29">CAHP-12%</text>
<rect x="1174.60" y="823.40" width="32.10" height="36.00" fill="#999999"/>
<rect x="1210.80" y="838.30" width="32.50" height="21.10" fill="url(#hg)"/>
<rect x="1266.30" y="758.50" width="32.00" height="100.90" fill="#23446A"/>
<rect x="1302.70" y="766.00" width="32.20" height="93.40" fill="url(#hb)"/>
<rect x="1357.70" y="642.90" width="32.30" height="216.50" fill="#A00000"/>
<rect x="1394.30" y="641.40" width="32.30" height="218.00" fill="url(#hr)"/>
<line x1="1190.90" y1="823.40" x2="1190.90" y2="821.00" stroke="#888" stroke-width="2"/>
<line x1="1187.40" y1="821.00" x2="1194.40" y2="821.00" stroke="#888" stroke-width="2"/>
<line x1="1227.00" y1="838.30" x2="1227.00" y2="835.30" stroke="#999" stroke-width="2"/>
<line x1="1223.50" y1="835.30" x2="1230.50" y2="835.30" stroke="#999" stroke-width="2"/>
<line x1="1282.10" y1="758.50" x2="1282.10" y2="748.60" stroke="#23446A" stroke-width="2"/>
<line x1="1278.60" y1="748.60" x2="1285.60" y2="748.60" stroke="#23446A" stroke-width="2"/>
<line x1="1318.70" y1="766.00" x2="1318.70" y2="755.10" stroke="#5b8fc8" stroke-width="2"/>
<line x1="1315.20" y1="755.10" x2="1322.20" y2="755.10" stroke="#5b8fc8" stroke-width="2"/>
<line x1="1373.90" y1="642.90" x2="1373.90" y2="607.70" stroke="#A00000" stroke-width="2"/>
<line x1="1370.40" y1="607.70" x2="1377.40" y2="607.70" stroke="#A00000" stroke-width="2"/>
<line x1="1410.50" y1="641.40" x2="1410.50" y2="602.80" stroke="#FF4848" stroke-width="2"/>
<line x1="1407.00" y1="602.80" x2="1414.00" y2="602.80" stroke="#FF4848" stroke-width="2"/>
<circle cx="1177.00" cy="822.40" r="3.3" fill="#888888" fill-opacity="0.9"/>
<circle cx="1190.90" cy="825.80" r="3.3" fill="#888888" fill-opacity="0.9"/>
<circle cx="1204.30" cy="821.00" r="3.3" fill="#888888" fill-opacity="0.9"/>
<circle cx="1213.60" cy="834.90" r="3.3" fill="#8f8f8f" fill-opacity="0.9"/>
<circle cx="1227.50" cy="840.80" r="3.3" fill="#8f8f8f" fill-opacity="0.9"/>
<circle cx="1240.90" cy="840.20" r="3.3" fill="#8f8f8f" fill-opacity="0.9"/>
<circle cx="1268.60" cy="751.80" r="3.3" fill="#C4D5E9" fill-opacity="0.9"/>
<circle cx="1282.10" cy="754.20" r="3.3" fill="#C4D5E9" fill-opacity="0.9"/>
<circle cx="1296.00" cy="770.00" r="3.3" fill="#C4D5E9" fill-opacity="0.9"/>
<circle cx="1305.20" cy="754.50" r="3.3" fill="#C4D5E9" fill-opacity="0.9"/>
<circle cx="1318.70" cy="768.60" r="3.3" fill="#C4D5E9" fill-opacity="0.9"/>
<circle cx="1332.60" cy="775.50" r="3.3" fill="#C4D5E9" fill-opacity="0.9"/>
<circle cx="1360.00" cy="618.20" r="3.3" fill="#F8B4B4" fill-opacity="0.9"/>
<circle cx="1373.90" cy="683.50" r="3.3" fill="#F8B4B4" fill-opacity="0.9"/>
<circle cx="1387.40" cy="627.50" r="3.3" fill="#F8B4B4" fill-opacity="0.9"/>
<circle cx="1396.70" cy="655.60" r="3.3" fill="#F8B4B4" fill-opacity="0.9"/>
<circle cx="1410.50" cy="597.80" r="3.3" fill="#F8B4B4" fill-opacity="0.9"/>
<circle cx="1424.00" cy="671.00" r="3.3" fill="#F8B4B4" fill-opacity="0.9"/>
<rect x="1145.00" y="552.10" width="320.30" height="307.30" fill="none" stroke="#000" stroke-width="2.2"/>
<line x1="1140.00" y1="859.40" x2="1145.00" y2="859.40" stroke="#000" stroke-width="2.2"/>
<text transform="translate(1135.50 868.90) scale(1 1.03)" font-size="29.5" text-anchor="end">0</text>
<line x1="1140.00" y1="782.57" x2="1145.00" y2="782.57" stroke="#000" stroke-width="2.2"/>
<text transform="translate(1135.50 792.07) scale(1 1.03)" font-size="29.5" text-anchor="end">10</text>
<line x1="1140.00" y1="705.75" x2="1145.00" y2="705.75" stroke="#000" stroke-width="2.2"/>
<text transform="translate(1135.50 715.25) scale(1 1.03)" font-size="29.5" text-anchor="end">20</text>
<line x1="1140.00" y1="628.92" x2="1145.00" y2="628.92" stroke="#000" stroke-width="2.2"/>
<text transform="translate(1135.50 638.42) scale(1 1.03)" font-size="29.5" text-anchor="end">30</text>
<line x1="1140.00" y1="552.10" x2="1145.00" y2="552.10" stroke="#000" stroke-width="2.2"/>
<text transform="translate(1135.50 561.60) scale(1 1.03)" font-size="29.5" text-anchor="end">40</text>
<line x1="1465.30" y1="859.40" x2="1470.30" y2="859.40" stroke="#000" stroke-width="2.2"/>
<text transform="translate(1473.80 868.90) scale(1 1.03)" font-size="29.5">0</text>
<line x1="1465.30" y1="782.57" x2="1470.30" y2="782.57" stroke="#000" stroke-width="2.2"/>
<text transform="translate(1473.80 792.07) scale(1 1.03)" font-size="29.5">5</text>
<line x1="1465.30" y1="705.75" x2="1470.30" y2="705.75" stroke="#000" stroke-width="2.2"/>
<text transform="translate(1473.80 715.25) scale(1 1.03)" font-size="29.5">10</text>
<line x1="1465.30" y1="628.92" x2="1470.30" y2="628.92" stroke="#000" stroke-width="2.2"/>
<text transform="translate(1473.80 638.42) scale(1 1.03)" font-size="29.5">15</text>
<line x1="1465.30" y1="552.10" x2="1470.30" y2="552.10" stroke="#000" stroke-width="2.2"/>
<text transform="translate(1473.80 561.60) scale(1 1.03)" font-size="29.5">20</text>
<text transform="translate(1248.85 883.50) rotate(-30) scale(1 1.03)" font-size="33" text-anchor="end">CAHP-8%</text>
<text transform="translate(1340.00 883.50) rotate(-30) scale(1 1.03)" font-size="33" text-anchor="end">CAHP-10%</text>
<text transform="translate(1431.75 883.50) rotate(-30) scale(1 1.03)" font-size="33" text-anchor="end">CAHP-12%</text>
<text transform="translate(1087.00 730.40) rotate(-90) scale(1 1.03)" font-size="33.5" text-anchor="middle">Tensile modulus (kPa)</text>
<text transform="translate(1547.50 725.00) rotate(-90) scale(1 1.03)" font-size="33.2" text-anchor="middle">Compression modulus (kPa)</text>
<rect x="1148.6" y="598" width="38.8" height="25.2" fill="#fff" stroke="#333" stroke-width="1.3"/>
<rect x="1148.6" y="637.4" width="38.8" height="24.9" fill="url(#hl)" stroke="#000" stroke-width="1.6"/>
<text transform="translate(1194.50 623.10) scale(1 1.03)" font-size="28.5">Tensile</text>
<text transform="translate(1194.50 660.70) scale(1 1.03)" font-size="27.3">Compression</text>
<path d="M1693.3 836.2 L1698.0 833.7 L1704.7 829.5 L1711.8 825.3 L1718.9 822.0 L1726.3 818.8 L1733.7 814.9 L1741.0 810.7 L1748.3 806.8 L1755.5 803.4 L1762.8 800.4 L1770.1 797.0 L1777.4 793.4 L1784.7 789.8 L1792.0 787.0 L1799.2 783.7 L1806.5 780.3 L1813.8 776.1 L1821.1 772.5 L1828.4 768.6 L1835.7 764.5 L1842.9 760.1 L1850.2 755.8 L1857.5 751.5 L1864.8 747.0 L1872.1 742.2 L1879.4 736.6 L1886.6 731.2 L1893.9 725.3 L1901.2 719.7 L1908.5 712.8 L1915.8 706.1 L1923.0 698.3 L1930.3 689.7 L1937.8 679.9 L1945.2 668.3 L1952.2 655.7 L1958.5 641.3 L1964.4 626.7 L1969.7 611.0 L1974.5 591.8 L1978.8 571.3 L1981.7 556.6 L1981.7 563.0 L1978.8 580.8 L1974.5 605.7 L1969.7 629.0 L1964.4 645.3 L1958.5 659.7 L1952.2 672.4 L1945.2 685.3 L1937.8 696.7 L1930.3 707.6 L1923.0 717.1 L1915.8 726.2 L1908.5 733.9 L1901.2 740.5 L1893.9 745.7 L1886.6 751.0 L1879.4 756.4 L1872.1 762.0 L1864.8 766.6 L1857.5 771.3 L1850.2 775.4 L1842.9 779.7 L1835.7 783.5 L1828.4 787.1 L1821.1 790.3 L1813.8 793.1 L1806.5 795.8 L1799.2 798.9 L1792.0 802.4 L1784.7 805.6 L1777.4 808.5 L1770.1 811.0 L1762.8 813.4 L1755.5 815.8 L1748.3 818.7 L1741.0 821.9 L1733.7 824.6 L1726.3 827.0 L1718.9 829.6 L1711.8 832.1 L1704.7 834.9 L1698.0 836.9 L1693.3 838.1" fill="none" stroke="#DCDCDC" stroke-width="3.6" stroke-linejoin="round" stroke-linecap="round"/>
<path d="M1693.3 840.3 L1698.0 838.3 L1704.7 835.4 L1711.8 832.4 L1718.9 829.6 L1726.3 826.8 L1733.7 823.7 L1741.0 820.6 L1748.3 817.0 L1755.5 814.2 L1762.8 812.2 L1770.1 810.4 L1777.4 808.3 L1784.7 805.8 L1792.0 803.0 L1799.2 799.9 L1806.5 796.8 L1813.8 793.6 L1821.1 790.2 L1828.4 786.7 L1835.7 783.1 L1842.9 779.6 L1850.2 776.3 L1857.5 772.8 L1864.8 769.0 L1872.1 764.4 L1879.4 760.4 L1886.6 755.8 L1893.9 751.2 L1901.2 745.8 L1908.5 740.5 L1915.8 734.9 L1923.0 728.8 L1930.3 721.5 L1937.8 712.4 L1945.2 702.3 L1952.2 692.1 L1958.5 681.9 L1964.4 670.8 L1969.7 659.5 L1974.5 646.2 L1978.8 633.2 L1981.7 623.9 L1981.7 628.5 L1978.8 637.8 L1974.5 650.4 L1969.7 663.3 L1964.4 673.9 L1958.5 684.5 L1952.2 694.2 L1945.2 704.0 L1937.8 713.5 L1930.3 722.3 L1923.0 730.4 L1915.8 737.7 L1908.5 744.6 L1901.2 751.1 L1893.9 757.2 L1886.6 763.3 L1879.4 768.7 L1872.1 773.8 L1864.8 778.3 L1857.5 782.5 L1850.2 786.9 L1842.9 790.3 L1835.7 794.3 L1828.4 798.0 L1821.1 801.8 L1813.8 804.9 L1806.5 807.8 L1799.2 810.6 L1792.0 813.2 L1784.7 815.3 L1777.4 817.8 L1770.1 819.8 L1762.8 821.8 L1755.5 823.4 L1748.3 825.7 L1741.0 827.6 L1733.7 830.0 L1726.3 831.5 L1718.9 834.0 L1711.8 836.0 L1704.7 838.9 L1698.0 840.8 L1693.3 842.1" fill="none" stroke="#A3A3A3" stroke-width="3.6" stroke-linejoin="round" stroke-linecap="round"/>
<path d="M1693.3 848.4 L1698.0 846.8 L1704.7 844.8 L1711.8 843.1 L1718.9 841.4 L1726.3 839.3 L1733.7 836.9 L1741.0 834.5 L1748.3 832.1 L1755.5 829.9 L1762.8 827.7 L1770.1 825.9 L1777.4 823.9 L1784.7 821.5 L1792.0 819.1 L1799.2 816.5 L1806.5 814.2 L1813.8 811.4 L1821.1 808.5 L1828.4 805.0 L1835.7 802.0 L1842.9 798.6 L1850.2 796.5 L1857.5 793.4 L1864.8 790.6 L1872.1 787.2 L1879.4 783.3 L1886.6 779.5 L1893.9 775.1 L1901.2 771.5 L1908.5 767.0 L1915.8 762.8 L1923.0 757.9 L1930.3 752.3 L1937.8 745.2 L1945.2 737.0 L1952.2 729.3 L1958.5 721.6 L1964.4 714.2 L1969.7 706.9 L1974.5 700.3 L1978.8 694.5 L1981.7 690.2 L1981.7 703.1 L1978.8 707.3 L1974.5 713.8 L1969.7 720.7 L1964.4 728.5 L1958.5 736.4 L1952.2 744.4 L1945.2 752.3 L1937.8 760.5 L1930.3 767.8 L1923.0 773.8 L1915.8 779.1 L1908.5 784.2 L1901.2 789.0 L1893.9 793.4 L1886.6 797.5 L1879.4 801.1 L1872.1 804.5 L1864.8 807.2 L1857.5 810.4 L1850.2 813.3 L1842.9 816.8 L1835.7 819.6 L1828.4 822.9 L1821.1 825.9 L1813.8 829.1 L1806.5 832.4 L1799.2 835.3 L1792.0 837.2 L1784.7 838.5 L1777.4 839.8 L1770.1 841.0 L1762.8 842.1 L1755.5 843.1 L1748.3 844.9 L1741.0 845.6 L1733.7 846.0 L1726.3 846.5 L1718.9 847.8 L1711.8 848.4 L1704.7 848.7 L1698.0 848.5 L1693.3 849.3" fill="none" stroke="#C3D7EC" stroke-width="3.6" stroke-linejoin="round" stroke-linecap="round"/>
<path d="M1693.3 846.2 L1698.0 844.3 L1704.7 842.3 L1711.8 840.8 L1718.9 839.1 L1726.3 836.6 L1733.7 834.1 L1741.0 832.2 L1748.3 830.0 L1755.5 828.1 L1762.8 825.8 L1770.1 824.0 L1777.4 821.7 L1784.7 819.3 L1792.0 816.9 L1799.2 814.6 L1806.5 811.9 L1813.8 808.8 L1821.1 805.2 L1828.4 802.3 L1835.7 799.6 L1842.9 797.2 L1850.2 794.6 L1857.5 791.7 L1864.8 788.5 L1872.1 785.0 L1879.4 781.4 L1886.6 777.5 L1893.9 773.8 L1901.2 769.7 L1908.5 765.1 L1915.8 760.1 L1923.0 755.1 L1930.3 749.5 L1937.8 742.4 L1945.2 734.4 L1952.2 726.6 L1958.5 719.4 L1964.4 712.3 L1969.7 705.2 L1974.5 698.4 L1978.8 692.1 L1981.7 688.0 L1981.7 701.4 L1978.8 705.4 L1974.5 711.5 L1969.7 718.2 L1964.4 725.8 L1958.5 734.1 L1952.2 742.2 L1945.2 750.3 L1937.8 758.0 L1930.3 765.0 L1923.0 771.1 L1915.8 776.2 L1908.5 781.3 L1901.2 785.8 L1893.9 790.4 L1886.6 794.2 L1879.4 798.4 L1872.1 802.0 L1864.8 805.5 L1857.5 808.4 L1850.2 811.3 L1842.9 814.6 L1835.7 817.6 L1828.4 821.0 L1821.1 824.0 L1813.8 827.4 L1806.5 830.1 L1799.2 832.9 L1792.0 834.9 L1784.7 836.7 L1777.4 837.5 L1770.1 838.5 L1762.8 839.5 L1755.5 840.8 L1748.3 842.0 L1741.0 842.9 L1733.7 843.9 L1726.3 844.7 L1718.9 845.3 L1711.8 845.7 L1704.7 846.6 L1698.0 847.3 L1693.3 847.6" fill="none" stroke="#6A9CD3" stroke-width="3.6" stroke-linejoin="round" stroke-linecap="round"/>
<path d="M1693.3 843.9 L1698.0 842.5 L1704.7 840.7 L1711.8 838.8 L1718.9 837.0 L1726.3 834.5 L1733.7 832.8 L1741.0 829.8 L1748.3 827.8 L1755.5 825.3 L1762.8 823.7 L1770.1 821.4 L1777.4 819.0 L1784.7 816.9 L1792.0 815.0 L1799.2 812.3 L1806.5 809.4 L1813.8 806.0 L1821.1 803.6 L1828.4 800.5 L1835.7 797.7 L1842.9 794.8 L1850.2 792.0 L1857.5 789.2 L1864.8 785.8 L1872.1 782.3 L1879.4 778.2 L1886.6 774.3 L1893.9 770.5 L1901.2 766.8 L1908.5 763.2 L1915.8 758.2 L1923.0 753.0 L1930.3 746.8 L1937.8 740.3 L1945.2 732.8 L1952.2 725.1 L1958.5 717.9 L1964.4 710.4 L1969.7 702.9 L1974.5 695.7 L1978.8 689.7 L1981.7 685.7 L1981.7 698.8 L1978.8 702.9 L1974.5 709.1 L1969.7 715.8 L1964.4 723.4 L1958.5 731.4 L1952.2 739.9 L1945.2 747.7 L1937.8 755.7 L1930.3 763.1 L1923.0 769.2 L1915.8 774.6 L1908.5 779.5 L1901.2 784.4 L1893.9 788.5 L1886.6 792.6 L1879.4 796.3 L1872.1 800.0 L1864.8 803.3 L1857.5 806.7 L1850.2 809.4 L1842.9 812.2 L1835.7 815.1 L1828.4 818.5 L1821.1 821.8 L1813.8 825.2 L1806.5 828.1 L1799.2 830.6 L1792.0 832.0 L1784.7 834.1 L1777.4 835.5 L1770.1 836.9 L1762.8 837.5 L1755.5 838.2 L1748.3 839.3 L1741.0 840.5 L1733.7 841.7 L1726.3 842.9 L1718.9 843.7 L1711.8 844.2 L1704.7 844.2 L1698.0 844.5 L1693.3 844.6" fill="none" stroke="#3E70A9" stroke-width="3.6" stroke-linejoin="round" stroke-linecap="round"/>
<path d="M1693.3 841.5 L1698.0 840.5 L1704.7 838.3 L1711.8 836.7 L1718.9 834.5 L1726.3 832.7 L1733.7 830.5 L1741.0 828.4 L1748.3 825.8 L1755.5 823.6 L1762.8 821.4 L1770.1 819.1 L1777.4 816.9 L1784.7 814.2 L1792.0 812.1 L1799.2 809.9 L1806.5 807.7 L1813.8 804.5 L1821.1 801.3 L1828.4 798.3 L1835.7 795.6 L1842.9 792.3 L1850.2 789.5 L1857.5 786.9 L1864.8 783.9 L1872.1 780.8 L1879.4 776.9 L1886.6 773.2 L1893.9 768.8 L1901.2 764.6 L1908.5 760.1 L1915.8 755.9 L1923.0 751.7 L1930.3 745.9 L1937.8 738.8 L1945.2 730.2 L1952.2 722.4 L1958.5 715.0 L1964.4 707.7 L1969.7 701.0 L1974.5 694.4 L1978.8 688.2 L1981.7 683.7 L1981.7 696.5 L1978.8 700.7 L1974.5 706.8 L1969.7 714.0 L1964.4 721.3 L1958.5 729.9 L1952.2 737.6 L1945.2 745.5 L1937.8 753.2 L1930.3 760.6 L1923.0 766.9 L1915.8 772.4 L1908.5 777.4 L1901.2 782.0 L1893.9 786.4 L1886.6 790.2 L1879.4 794.1 L1872.1 797.5 L1864.8 801.2 L1857.5 804.7 L1850.2 807.5 L1842.9 810.0 L1835.7 812.6 L1828.4 816.1 L1821.1 819.6 L1813.8 823.2 L1806.5 826.2 L1799.2 829.0 L1792.0 830.7 L1784.7 832.1 L1777.4 833.0 L1770.1 833.9 L1762.8 834.5 L1755.5 835.6 L1748.3 836.8 L1741.0 838.3 L1733.7 839.1 L1726.3 840.1 L1718.9 841.0 L1711.8 841.3 L1704.7 841.7 L1698.0 842.1 L1693.3 842.8" fill="none" stroke="#25497A" stroke-width="3.6" stroke-linejoin="round" stroke-linecap="round"/>
<path d="M1693.3 839.2 L1698.0 838.3 L1704.7 836.6 L1711.8 834.1 L1718.9 832.0 L1726.3 829.7 L1733.7 827.9 L1741.0 825.8 L1748.3 823.7 L1755.5 821.2 L1762.8 818.8 L1770.1 816.7 L1777.4 814.9 L1784.7 812.4 L1792.0 809.5 L1799.2 807.2 L1806.5 805.2 L1813.8 802.9 L1821.1 799.6 L1828.4 796.3 L1835.7 793.1 L1842.9 789.9 L1850.2 787.3 L1857.5 784.5 L1864.8 781.3 L1872.1 777.6 L1879.4 773.8 L1886.6 770.3 L1893.9 767.0 L1901.2 763.4 L1908.5 758.6 L1915.8 753.7 L1923.0 748.8 L1930.3 744.0 L1937.8 736.9 L1945.2 728.3 L1952.2 720.3 L1958.5 712.7 L1964.4 706.0 L1969.7 699.0 L1974.5 691.9 L1978.8 685.6 L1981.7 680.9 L1981.7 694.6 L1978.8 698.6 L1974.5 704.9 L1969.7 711.2 L1964.4 718.5 L1958.5 726.7 L1952.2 735.3 L1945.2 743.4 L1937.8 751.8 L1930.3 759.0 L1923.0 765.4 L1915.8 770.1 L1908.5 774.9 L1901.2 779.6 L1893.9 784.4 L1886.6 788.7 L1879.4 792.3 L1872.1 795.5 L1864.8 799.1 L1857.5 802.1 L1850.2 805.0 L1842.9 807.9 L1835.7 811.3 L1828.4 814.6 L1821.1 817.7 L1813.8 820.8 L1806.5 824.2 L1799.2 826.6 L1792.0 828.3 L1784.7 829.8 L1777.4 831.3 L1770.1 832.7 L1762.8 833.2 L1755.5 833.7 L1748.3 834.7 L1741.0 835.6 L1733.7 837.1 L1726.3 838.3 L1718.9 839.2 L1711.8 839.6 L1704.7 839.9 L1698.0 840.3 L1693.3 840.7" fill="none" stroke="#172D4A" stroke-width="3.6" stroke-linejoin="round" stroke-linecap="round"/>
<rect x="1693.30" y="552.60" width="288.40" height="313.10" fill="none" stroke="#000" stroke-width="2.2"/>
<line x1="1688.30" y1="816.50" x2="1693.30" y2="816.50" stroke="#000" stroke-width="2.2"/>
<text transform="translate(1684.30 826.50) scale(1 1.03)" font-size="32.5" text-anchor="end">0</text>
<line x1="1688.30" y1="753.70" x2="1693.30" y2="753.70" stroke="#000" stroke-width="2.2"/>
<text transform="translate(1684.30 763.70) scale(1 1.03)" font-size="32.5" text-anchor="end">5</text>
<line x1="1688.30" y1="690.90" x2="1693.30" y2="690.90" stroke="#000" stroke-width="2.2"/>
<text transform="translate(1684.30 700.90) scale(1 1.03)" font-size="32.5" text-anchor="end">10</text>
<line x1="1688.30" y1="628.10" x2="1693.30" y2="628.10" stroke="#000" stroke-width="2.2"/>
<text transform="translate(1684.30 638.10) scale(1 1.03)" font-size="32.5" text-anchor="end">15</text>
<line x1="1688.30" y1="565.30" x2="1693.30" y2="565.30" stroke="#000" stroke-width="2.2"/>
<text transform="translate(1684.30 575.30) scale(1 1.03)" font-size="32.5" text-anchor="end">20</text>
<line x1="1693.30" y1="865.70" x2="1693.30" y2="871.70" stroke="#000" stroke-width="2.2"/>
<text transform="translate(1693.30 900.70) scale(1 1.03)" font-size="32.5" text-anchor="middle">0</text>
<line x1="1751.20" y1="865.70" x2="1751.20" y2="871.70" stroke="#000" stroke-width="2.2"/>
<text transform="translate(1751.20 900.70) scale(1 1.03)" font-size="32.5" text-anchor="middle">5</text>
<line x1="1809.10" y1="865.70" x2="1809.10" y2="871.70" stroke="#000" stroke-width="2.2"/>
<text transform="translate(1809.10 900.70) scale(1 1.03)" font-size="32.5" text-anchor="middle">10</text>
<line x1="1867.00" y1="865.70" x2="1867.00" y2="871.70" stroke="#000" stroke-width="2.2"/>
<text transform="translate(1867.00 900.70) scale(1 1.03)" font-size="32.5" text-anchor="middle">15</text>
<line x1="1924.90" y1="865.70" x2="1924.90" y2="871.70" stroke="#000" stroke-width="2.2"/>
<text transform="translate(1924.90 900.70) scale(1 1.03)" font-size="32.5" text-anchor="middle">20</text>
<line x1="1982.80" y1="865.70" x2="1982.80" y2="871.70" stroke="#000" stroke-width="2.2"/>
<text transform="translate(1982.80 900.70) scale(1 1.03)" font-size="32.5" text-anchor="middle">25</text>
<text transform="translate(1837.00 949.00) scale(1 1.03)" font-size="34" text-anchor="middle">Strain (%)</text>
<text transform="translate(1631.50 709.70) rotate(-90) scale(1 1.03)" font-size="34" text-anchor="middle">Stress (kPa)</text>
<line x1="1702.00" y1="585.00" x2="1724.00" y2="585.00" stroke="#DCDCDC" stroke-width="3.6"/>
<text transform="translate(1729.30 590.50) scale(1 1.03)" font-size="29">1st</text>
<line x1="1702.00" y1="620.40" x2="1724.00" y2="620.40" stroke="#A3A3A3" stroke-width="3.6"/>
<text transform="translate(1729.30 625.90) scale(1 1.03)" font-size="29">2nd</text>
<line x1="1702.00" y1="656.00" x2="1724.00" y2="656.00" stroke="#C3D7EC" stroke-width="3.6"/>
<text transform="translate(1729.30 661.50) scale(1 1.03)" font-size="29">10th</text>
<line x1="1702.00" y1="690.50" x2="1724.00" y2="690.50" stroke="#6A9CD3" stroke-width="3.6"/>
<text transform="translate(1729.30 696.00) scale(1 1.03)" font-size="29">100th</text>
<line x1="1810.20" y1="585.00" x2="1829.80" y2="585.00" stroke="#3E70A9" stroke-width="3.6"/>
<text transform="translate(1838.60 590.50) scale(1 1.03)" font-size="29">1000th</text>
<line x1="1810.20" y1="620.40" x2="1829.80" y2="620.40" stroke="#25497A" stroke-width="3.6"/>
<text transform="translate(1838.60 625.90) scale(1 1.03)" font-size="29">10000th</text>
<line x1="1810.20" y1="656.00" x2="1829.80" y2="656.00" stroke="#172D4A" stroke-width="3.6"/>
<text transform="translate(1838.60 661.50) scale(1 1.03)" font-size="29">50000th</text>
<path d="M1011.0 1176.5 L1018.1 1176.4 L1025.2 1176.3 L1032.2 1176.2 L1039.3 1176.1 L1046.4 1176.0 L1058.7 1208.0 L1065.7 1208.6 L1072.8 1209.2 L1079.9 1209.8 L1087.0 1210.4 L1094.1 1211.0 L1106.3 1178.5 L1113.4 1178.4 L1120.5 1178.3 L1127.5 1178.2 L1134.6 1178.1 L1141.7 1178.0 L1154.0 1220.0 L1161.0 1220.6 L1168.1 1221.2 L1175.2 1221.8 L1182.3 1222.4 L1189.4 1223.0 L1201.6 1177.0 L1208.7 1176.9 L1215.8 1176.8 L1222.8 1176.7 L1229.9 1176.6 L1237.0 1176.5 L1249.2 1222.0 L1256.3 1222.4 L1263.4 1222.8 L1270.5 1223.2 L1277.6 1223.6 L1284.7 1224.0 L1296.9 1176.0 L1304.0 1175.9 L1311.1 1175.8 L1318.1 1175.7 L1325.2 1175.6 L1332.3 1175.5 L1344.5 1224.0 L1351.6 1224.6 L1358.7 1225.2 L1365.8 1225.8 L1372.9 1226.4 L1380.0 1227.0" fill="none" stroke="#B3B3B3" stroke-width="2" stroke-linejoin="round" stroke-linecap="round"/>
<rect x="1007.40" y="1173.30" width="7.20" height="6.40" fill="#B3B3B3"/>
<rect x="1014.48" y="1173.20" width="7.20" height="6.40" fill="#B3B3B3"/>
<rect x="1021.56" y="1173.10" width="7.20" height="6.40" fill="#B3B3B3"/>
<rect x="1028.64" y="1173.00" width="7.20" height="6.40" fill="#B3B3B3"/>
<rect x="1035.72" y="1172.90" width="7.20" height="6.40" fill="#B3B3B3"/>
<rect x="1042.80" y="1172.80" width="7.20" height="6.40" fill="#B3B3B3"/>
<rect x="1055.05" y="1204.80" width="7.20" height="6.40" fill="#B3B3B3"/>
<rect x="1062.13" y="1205.40" width="7.20" height="6.40" fill="#B3B3B3"/>
<rect x="1069.21" y="1206.00" width="7.20" height="6.40" fill="#B3B3B3"/>
<rect x="1076.29" y="1206.60" width="7.20" height="6.40" fill="#B3B3B3"/>
<rect x="1083.37" y="1207.20" width="7.20" height="6.40" fill="#B3B3B3"/>
<rect x="1090.45" y="1207.80" width="7.20" height="6.40" fill="#B3B3B3"/>
<rect x="1102.70" y="1175.30" width="7.20" height="6.40" fill="#B3B3B3"/>
<rect x="1109.78" y="1175.20" width="7.20" height="6.40" fill="#B3B3B3"/>
<rect x="1116.86" y="1175.10" width="7.20" height="6.40" fill="#B3B3B3"/>
<rect x="1123.94" y="1175.00" width="7.20" height="6.40" fill="#B3B3B3"/>
<rect x="1131.02" y="1174.90" width="7.20" height="6.40" fill="#B3B3B3"/>
<rect x="1138.10" y="1174.80" width="7.20" height="6.40" fill="#B3B3B3"/>
<rect x="1150.35" y="1216.80" width="7.20" height="6.40" fill="#B3B3B3"/>
<rect x="1157.43" y="1217.40" width="7.20" height="6.40" fill="#B3B3B3"/>
<rect x="1164.51" y="1218.00" width="7.20" height="6.40" fill="#B3B3B3"/>
<rect x="1171.59" y="1218.60" width="7.20" height="6.40" fill="#B3B3B3"/>
<rect x="1178.67" y="1219.20" width="7.20" height="6.40" fill="#B3B3B3"/>
<rect x="1185.75" y="1219.80" width="7.20" height="6.40" fill="#B3B3B3"/>
<rect x="1198.00" y="1173.80" width="7.20" height="6.40" fill="#B3B3B3"/>
<rect x="1205.08" y="1173.70" width="7.20" height="6.40" fill="#B3B3B3"/>
<rect x="1212.16" y="1173.60" width="7.20" height="6.40" fill="#B3B3B3"/>
<rect x="1219.24" y="1173.50" width="7.20" height="6.40" fill="#B3B3B3"/>
<rect x="1226.32" y="1173.40" width="7.20" height="6.40" fill="#B3B3B3"/>
<rect x="1233.40" y="1173.30" width="7.20" height="6.40" fill="#B3B3B3"/>
<rect x="1245.65" y="1218.80" width="7.20" height="6.40" fill="#B3B3B3"/>
<rect x="1252.73" y="1219.20" width="7.20" height="6.40" fill="#B3B3B3"/>
<rect x="1259.81" y="1219.60" width="7.20" height="6.40" fill="#B3B3B3"/>
<rect x="1266.89" y="1220.00" width="7.20" height="6.40" fill="#B3B3B3"/>
<rect x="1273.97" y="1220.40" width="7.20" height="6.40" fill="#B3B3B3"/>
<rect x="1281.05" y="1220.80" width="7.20" height="6.40" fill="#B3B3B3"/>
<rect x="1293.30" y="1172.80" width="7.20" height="6.40" fill="#B3B3B3"/>
<rect x="1300.38" y="1172.70" width="7.20" height="6.40" fill="#B3B3B3"/>
<rect x="1307.46" y="1172.60" width="7.20" height="6.40" fill="#B3B3B3"/>
<rect x="1314.54" y="1172.50" width="7.20" height="6.40" fill="#B3B3B3"/>
<rect x="1321.62" y="1172.40" width="7.20" height="6.40" fill="#B3B3B3"/>
<rect x="1328.70" y="1172.30" width="7.20" height="6.40" fill="#B3B3B3"/>
<rect x="1340.95" y="1220.80" width="7.20" height="6.40" fill="#B3B3B3"/>
<rect x="1348.03" y="1221.40" width="7.20" height="6.40" fill="#B3B3B3"/>
<rect x="1355.11" y="1222.00" width="7.20" height="6.40" fill="#B3B3B3"/>
<rect x="1362.19" y="1222.60" width="7.20" height="6.40" fill="#B3B3B3"/>
<rect x="1369.27" y="1223.20" width="7.20" height="6.40" fill="#B3B3B3"/>
<rect x="1376.35" y="1223.80" width="7.20" height="6.40" fill="#B3B3B3"/>
<path d="M1011.0 1231.5 L1018.1 1231.1 L1025.2 1230.7 L1032.2 1230.3 L1039.3 1229.9 L1046.4 1229.5 L1058.7 1209.0 L1065.7 1209.4 L1072.8 1209.8 L1079.9 1210.2 L1087.0 1210.6 L1094.1 1211.0 L1106.3 1234.0 L1113.4 1233.8 L1120.5 1233.6 L1127.5 1233.4 L1134.6 1233.2 L1141.7 1233.0 L1154.0 1211.0 L1161.0 1211.4 L1168.1 1211.8 L1175.2 1212.2 L1182.3 1212.6 L1189.4 1213.0 L1201.6 1235.5 L1208.7 1235.3 L1215.8 1235.1 L1222.8 1234.9 L1229.9 1234.7 L1237.0 1234.5 L1249.2 1212.0 L1256.3 1212.2 L1263.4 1212.4 L1270.5 1212.6 L1277.6 1212.8 L1284.7 1213.0 L1296.9 1234.0 L1304.0 1233.9 L1311.1 1233.8 L1318.1 1233.7 L1325.2 1233.6 L1332.3 1233.5 L1344.5 1213.0 L1351.6 1213.2 L1358.7 1213.4 L1365.8 1213.6 L1372.9 1213.8 L1380.0 1214.0" fill="none" stroke="#B3B3B3" stroke-width="2" stroke-linejoin="round" stroke-linecap="round"/>
<rect x="1008.40" y="1228.90" width="5.2" height="5.2" fill="#fff" stroke="#B3B3B3" stroke-width="1.4"/>
<rect x="1015.48" y="1228.50" width="5.2" height="5.2" fill="#fff" stroke="#B3B3B3" stroke-width="1.4"/>
<rect x="1022.56" y="1228.10" width="5.2" height="5.2" fill="#fff" stroke="#B3B3B3" stroke-width="1.4"/>
<rect x="1029.64" y="1227.70" width="5.2" height="5.2" fill="#fff" stroke="#B3B3B3" stroke-width="1.4"/>
<rect x="1036.72" y="1227.30" width="5.2" height="5.2" fill="#fff" stroke="#B3B3B3" stroke-width="1.4"/>
<rect x="1043.80" y="1226.90" width="5.2" height="5.2" fill="#fff" stroke="#B3B3B3" stroke-width="1.4"/>
<rect x="1056.05" y="1206.40" width="5.2" height="5.2" fill="#fff" stroke="#B3B3B3" stroke-width="1.4"/>
<rect x="1063.13" y="1206.80" width="5.2" height="5.2" fill="#fff" stroke="#B3B3B3" stroke-width="1.4"/>
<rect x="1070.21" y="1207.20" width="5.2" height="5.2" fill="#fff" stroke="#B3B3B3" stroke-width="1.4"/>
<rect x="1077.29" y="1207.60" width="5.2" height="5.2" fill="#fff" stroke="#B3B3B3" stroke-width="1.4"/>
<rect x="1084.37" y="1208.00" width="5.2" height="5.2" fill="#fff" stroke="#B3B3B3" stroke-width="1.4"/>
<rect x="1091.45" y="1208.40" width="5.2" height="5.2" fill="#fff" stroke="#B3B3B3" stroke-width="1.4"/>
<rect x="1103.70" y="1231.40" width="5.2" height="5.2" fill="#fff" stroke="#B3B3B3" stroke-width="1.4"/>
<rect x="1110.78" y="1231.20" width="5.2" height="5.2" fill="#fff" stroke="#B3B3B3" stroke-width="1.4"/>
<rect x="1117.86" y="1231.00" width="5.2" height="5.2" fill="#fff" stroke="#B3B3B3" stroke-width="1.4"/>
<rect x="1124.94" y="1230.80" width="5.2" height="5.2" fill="#fff" stroke="#B3B3B3" stroke-width="1.4"/>
<rect x="1132.02" y="1230.60" width="5.2" height="5.2" fill="#fff" stroke="#B3B3B3" stroke-width="1.4"/>
<rect x="1139.10" y="1230.40" width="5.2" height="5.2" fill="#fff" stroke="#B3B3B3" stroke-width="1.4"/>
<rect x="1151.35" y="1208.40" width="5.2" height="5.2" fill="#fff" stroke="#B3B3B3" stroke-width="1.4"/>
<rect x="1158.43" y="1208.80" width="5.2" height="5.2" fill="#fff" stroke="#B3B3B3" stroke-width="1.4"/>
<rect x="1165.51" y="1209.20" width="5.2" height="5.2" fill="#fff" stroke="#B3B3B3" stroke-width="1.4"/>
<rect x="1172.59" y="1209.60" width="5.2" height="5.2" fill="#fff" stroke="#B3B3B3" stroke-width="1.4"/>
<rect x="1179.67" y="1210.00" width="5.2" height="5.2" fill="#fff" stroke="#B3B3B3" stroke-width="1.4"/>
<rect x="1186.75" y="1210.40" width="5.2" height="5.2" fill="#fff" stroke="#B3B3B3" stroke-width="1.4"/>
<rect x="1199.00" y="1232.90" width="5.2" height="5.2" fill="#fff" stroke="#B3B3B3" stroke-width="1.4"/>
<rect x="1206.08" y="1232.70" width="5.2" height="5.2" fill="#fff" stroke="#B3B3B3" stroke-width="1.4"/>
<rect x="1213.16" y="1232.50" width="5.2" height="5.2" fill="#fff" stroke="#B3B3B3" stroke-width="1.4"/>
<rect x="1220.24" y="1232.30" width="5.2" height="5.2" fill="#fff" stroke="#B3B3B3" stroke-width="1.4"/>
<rect x="1227.32" y="1232.10" width="5.2" height="5.2" fill="#fff" stroke="#B3B3B3" stroke-width="1.4"/>
<rect x="1234.40" y="1231.90" width="5.2" height="5.2" fill="#fff" stroke="#B3B3B3" stroke-width="1.4"/>
<rect x="1246.65" y="1209.40" width="5.2" height="5.2" fill="#fff" stroke="#B3B3B3" stroke-width="1.4"/>
<rect x="1253.73" y="1209.60" width="5.2" height="5.2" fill="#fff" stroke="#B3B3B3" stroke-width="1.4"/>
<rect x="1260.81" y="1209.80" width="5.2" height="5.2" fill="#fff" stroke="#B3B3B3" stroke-width="1.4"/>
<rect x="1267.89" y="1210.00" width="5.2" height="5.2" fill="#fff" stroke="#B3B3B3" stroke-width="1.4"/>
<rect x="1274.97" y="1210.20" width="5.2" height="5.2" fill="#fff" stroke="#B3B3B3" stroke-width="1.4"/>
<rect x="1282.05" y="1210.40" width="5.2" height="5.2" fill="#fff" stroke="#B3B3B3" stroke-width="1.4"/>
<rect x="1294.30" y="1231.40" width="5.2" height="5.2" fill="#fff" stroke="#B3B3B3" stroke-width="1.4"/>
<rect x="1301.38" y="1231.30" width="5.2" height="5.2" fill="#fff" stroke="#B3B3B3" stroke-width="1.4"/>
<rect x="1308.46" y="1231.20" width="5.2" height="5.2" fill="#fff" stroke="#B3B3B3" stroke-width="1.4"/>
<rect x="1315.54" y="1231.10" width="5.2" height="5.2" fill="#fff" stroke="#B3B3B3" stroke-width="1.4"/>
<rect x="1322.62" y="1231.00" width="5.2" height="5.2" fill="#fff" stroke="#B3B3B3" stroke-width="1.4"/>
<rect x="1329.70" y="1230.90" width="5.2" height="5.2" fill="#fff" stroke="#B3B3B3" stroke-width="1.4"/>
<rect x="1341.95" y="1210.40" width="5.2" height="5.2" fill="#fff" stroke="#B3B3B3" stroke-width="1.4"/>
<rect x="1349.03" y="1210.60" width="5.2" height="5.2" fill="#fff" stroke="#B3B3B3" stroke-width="1.4"/>
<rect x="1356.11" y="1210.80" width="5.2" height="5.2" fill="#fff" stroke="#B3B3B3" stroke-width="1.4"/>
<rect x="1363.19" y="1211.00" width="5.2" height="5.2" fill="#fff" stroke="#B3B3B3" stroke-width="1.4"/>
<rect x="1370.27" y="1211.20" width="5.2" height="5.2" fill="#fff" stroke="#B3B3B3" stroke-width="1.4"/>
<rect x="1377.35" y="1211.40" width="5.2" height="5.2" fill="#fff" stroke="#B3B3B3" stroke-width="1.4"/>
<path d="M1011.0 1185.6 L1018.1 1185.5 L1025.2 1185.4 L1032.2 1185.4 L1039.3 1185.3 L1046.4 1185.2 L1058.7 1194.8 L1065.7 1194.8 L1072.8 1194.8 L1079.9 1194.8 L1087.0 1194.8 L1094.1 1194.8 L1106.3 1186.1 L1113.4 1186.0 L1120.5 1185.9 L1127.5 1185.8 L1134.6 1185.7 L1141.7 1185.6 L1154.0 1194.3 L1161.0 1194.3 L1168.1 1194.3 L1175.2 1194.3 L1182.3 1194.3 L1189.4 1194.3 L1201.6 1182.0 L1208.7 1181.9 L1215.8 1181.8 L1222.8 1181.7 L1229.9 1181.6 L1237.0 1181.5 L1249.2 1192.5 L1256.3 1192.6 L1263.4 1192.6 L1270.5 1192.7 L1277.6 1192.7 L1284.7 1192.8 L1296.9 1182.0 L1304.0 1181.9 L1311.1 1181.8 L1318.1 1181.7 L1325.2 1181.6 L1332.3 1181.5 L1344.5 1193.0 L1351.6 1193.1 L1358.7 1193.2 L1365.8 1193.3 L1372.9 1193.4 L1380.0 1193.5" fill="none" stroke="#23446A" stroke-width="2" stroke-linejoin="round" stroke-linecap="round"/>
<circle cx="1011.00" cy="1185.60" r="3.1" fill="#fff" stroke="#23446A" stroke-width="1.3"/>
<circle cx="1018.08" cy="1185.52" r="3.1" fill="#fff" stroke="#23446A" stroke-width="1.3"/>
<circle cx="1025.16" cy="1185.44" r="3.1" fill="#fff" stroke="#23446A" stroke-width="1.3"/>
<circle cx="1032.24" cy="1185.36" r="3.1" fill="#fff" stroke="#23446A" stroke-width="1.3"/>
<circle cx="1039.32" cy="1185.28" r="3.1" fill="#fff" stroke="#23446A" stroke-width="1.3"/>
<circle cx="1046.40" cy="1185.20" r="3.1" fill="#fff" stroke="#23446A" stroke-width="1.3"/>
<circle cx="1058.65" cy="1194.80" r="3.1" fill="#fff" stroke="#23446A" stroke-width="1.3"/>
<circle cx="1065.73" cy="1194.80" r="3.1" fill="#fff" stroke="#23446A" stroke-width="1.3"/>
<circle cx="1072.81" cy="1194.80" r="3.1" fill="#fff" stroke="#23446A" stroke-width="1.3"/>
<circle cx="1079.89" cy="1194.80" r="3.1" fill="#fff" stroke="#23446A" stroke-width="1.3"/>
<circle cx="1086.97" cy="1194.80" r="3.1" fill="#fff" stroke="#23446A" stroke-width="1.3"/>
<circle cx="1094.05" cy="1194.80" r="3.1" fill="#fff" stroke="#23446A" stroke-width="1.3"/>
<circle cx="1106.30" cy="1186.10" r="3.1" fill="#fff" stroke="#23446A" stroke-width="1.3"/>
<circle cx="1113.38" cy="1186.00" r="3.1" fill="#fff" stroke="#23446A" stroke-width="1.3"/>
<circle cx="1120.46" cy="1185.90" r="3.1" fill="#fff" stroke="#23446A" stroke-width="1.3"/>
<circle cx="1127.54" cy="1185.80" r="3.1" fill="#fff" stroke="#23446A" stroke-width="1.3"/>
<circle cx="1134.62" cy="1185.70" r="3.1" fill="#fff" stroke="#23446A" stroke-width="1.3"/>
<circle cx="1141.70" cy="1185.60" r="3.1" fill="#fff" stroke="#23446A" stroke-width="1.3"/>
<circle cx="1153.95" cy="1194.30" r="3.1" fill="#fff" stroke="#23446A" stroke-width="1.3"/>
<circle cx="1161.03" cy="1194.30" r="3.1" fill="#fff" stroke="#23446A" stroke-width="1.3"/>
<circle cx="1168.11" cy="1194.30" r="3.1" fill="#fff" stroke="#23446A" stroke-width="1.3"/>
<circle cx="1175.19" cy="1194.30" r="3.1" fill="#fff" stroke="#23446A" stroke-width="1.3"/>
<circle cx="1182.27" cy="1194.30" r="3.1" fill="#fff" stroke="#23446A" stroke-width="1.3"/>
<circle cx="1189.35" cy="1194.30" r="3.1" fill="#fff" stroke="#23446A" stroke-width="1.3"/>
<circle cx="1201.60" cy="1182.00" r="3.1" fill="#fff" stroke="#23446A" stroke-width="1.3"/>
<circle cx="1208.68" cy="1181.90" r="3.1" fill="#fff" stroke="#23446A" stroke-width="1.3"/>
<circle cx="1215.76" cy="1181.80" r="3.1" fill="#fff" stroke="#23446A" stroke-width="1.3"/>
<circle cx="1222.84" cy="1181.70" r="3.1" fill="#fff" stroke="#23446A" stroke-width="1.3"/>
<circle cx="1229.92" cy="1181.60" r="3.1" fill="#fff" stroke="#23446A" stroke-width="1.3"/>
<circle cx="1237.00" cy="1181.50" r="3.1" fill="#fff" stroke="#23446A" stroke-width="1.3"/>
<circle cx="1249.25" cy="1192.50" r="3.1" fill="#fff" stroke="#23446A" stroke-width="1.3"/>
<circle cx="1256.33" cy="1192.56" r="3.1" fill="#fff" stroke="#23446A" stroke-width="1.3"/>
<circle cx="1263.41" cy="1192.62" r="3.1" fill="#fff" stroke="#23446A" stroke-width="1.3"/>
<circle cx="1270.49" cy="1192.68" r="3.1" fill="#fff" stroke="#23446A" stroke-width="1.3"/>
<circle cx="1277.57" cy="1192.74" r="3.1" fill="#fff" stroke="#23446A" stroke-width="1.3"/>
<circle cx="1284.65" cy="1192.80" r="3.1" fill="#fff" stroke="#23446A" stroke-width="1.3"/>
<circle cx="1296.90" cy="1182.00" r="3.1" fill="#fff" stroke="#23446A" stroke-width="1.3"/>
<circle cx="1303.98" cy="1181.90" r="3.1" fill="#fff" stroke="#23446A" stroke-width="1.3"/>
<circle cx="1311.06" cy="1181.80" r="3.1" fill="#fff" stroke="#23446A" stroke-width="1.3"/>
<circle cx="1318.14" cy="1181.70" r="3.1" fill="#fff" stroke="#23446A" stroke-width="1.3"/>
<circle cx="1325.22" cy="1181.60" r="3.1" fill="#fff" stroke="#23446A" stroke-width="1.3"/>
<circle cx="1332.30" cy="1181.50" r="3.1" fill="#fff" stroke="#23446A" stroke-width="1.3"/>
<circle cx="1344.55" cy="1193.00" r="3.1" fill="#fff" stroke="#23446A" stroke-width="1.3"/>
<circle cx="1351.63" cy="1193.10" r="3.1" fill="#fff" stroke="#23446A" stroke-width="1.3"/>
<circle cx="1358.71" cy="1193.20" r="3.1" fill="#fff" stroke="#23446A" stroke-width="1.3"/>
<circle cx="1365.79" cy="1193.30" r="3.1" fill="#fff" stroke="#23446A" stroke-width="1.3"/>
<circle cx="1372.87" cy="1193.40" r="3.1" fill="#fff" stroke="#23446A" stroke-width="1.3"/>
<circle cx="1379.95" cy="1193.50" r="3.1" fill="#fff" stroke="#23446A" stroke-width="1.3"/>
<path d="M1011.0 1150.0 L1018.1 1149.8 L1025.2 1149.6 L1032.2 1149.4 L1039.3 1149.2 L1046.4 1149.0 L1058.7 1219.0 L1065.7 1219.3 L1072.8 1219.6 L1079.9 1219.9 L1087.0 1220.2 L1094.1 1220.5 L1106.3 1150.5 L1113.4 1150.4 L1120.5 1150.3 L1127.5 1150.2 L1134.6 1150.1 L1141.7 1150.0 L1154.0 1219.5 L1161.0 1219.4 L1168.1 1219.3 L1175.2 1219.2 L1182.3 1219.1 L1189.4 1219.0 L1201.6 1149.5 L1208.7 1149.3 L1215.8 1149.1 L1222.8 1148.9 L1229.9 1148.7 L1237.0 1148.5 L1249.2 1218.5 L1256.3 1218.4 L1263.4 1218.3 L1270.5 1218.2 L1277.6 1218.1 L1284.7 1218.0 L1296.9 1144.0 L1304.0 1143.8 L1311.1 1143.6 L1318.1 1143.4 L1325.2 1143.2 L1332.3 1143.0 L1344.5 1216.5 L1351.6 1216.7 L1358.7 1216.9 L1365.8 1217.1 L1372.9 1217.3 L1380.0 1217.5" fill="none" stroke="#23446A" stroke-width="2" stroke-linejoin="round" stroke-linecap="round"/>
<circle cx="1011.00" cy="1150.00" r="3.8" fill="#23446A"/>
<circle cx="1018.08" cy="1149.80" r="3.8" fill="#23446A"/>
<circle cx="1025.16" cy="1149.60" r="3.8" fill="#23446A"/>
<circle cx="1032.24" cy="1149.40" r="3.8" fill="#23446A"/>
<circle cx="1039.32" cy="1149.20" r="3.8" fill="#23446A"/>
<circle cx="1046.40" cy="1149.00" r="3.8" fill="#23446A"/>
<circle cx="1058.65" cy="1219.00" r="3.8" fill="#23446A"/>
<circle cx="1065.73" cy="1219.30" r="3.8" fill="#23446A"/>
<circle cx="1072.81" cy="1219.60" r="3.8" fill="#23446A"/>
<circle cx="1079.89" cy="1219.90" r="3.8" fill="#23446A"/>
<circle cx="1086.97" cy="1220.20" r="3.8" fill="#23446A"/>
<circle cx="1094.05" cy="1220.50" r="3.8" fill="#23446A"/>
<circle cx="1106.30" cy="1150.50" r="3.8" fill="#23446A"/>
<circle cx="1113.38" cy="1150.40" r="3.8" fill="#23446A"/>
<circle cx="1120.46" cy="1150.30" r="3.8" fill="#23446A"/>
<circle cx="1127.54" cy="1150.20" r="3.8" fill="#23446A"/>
<circle cx="1134.62" cy="1150.10" r="3.8" fill="#23446A"/>
<circle cx="1141.70" cy="1150.00" r="3.8" fill="#23446A"/>
<circle cx="1153.95" cy="1219.50" r="3.8" fill="#23446A"/>
<circle cx="1161.03" cy="1219.40" r="3.8" fill="#23446A"/>
<circle cx="1168.11" cy="1219.30" r="3.8" fill="#23446A"/>
<circle cx="1175.19" cy="1219.20" r="3.8" fill="#23446A"/>
<circle cx="1182.27" cy="1219.10" r="3.8" fill="#23446A"/>
<circle cx="1189.35" cy="1219.00" r="3.8" fill="#23446A"/>
<circle cx="1201.60" cy="1149.50" r="3.8" fill="#23446A"/>
<circle cx="1208.68" cy="1149.30" r="3.8" fill="#23446A"/>
<circle cx="1215.76" cy="1149.10" r="3.8" fill="#23446A"/>
<circle cx="1222.84" cy="1148.90" r="3.8" fill="#23446A"/>
<circle cx="1229.92" cy="1148.70" r="3.8" fill="#23446A"/>
<circle cx="1237.00" cy="1148.50" r="3.8" fill="#23446A"/>
<circle cx="1249.25" cy="1218.50" r="3.8" fill="#23446A"/>
<circle cx="1256.33" cy="1218.40" r="3.8" fill="#23446A"/>
<circle cx="1263.41" cy="1218.30" r="3.8" fill="#23446A"/>
<circle cx="1270.49" cy="1218.20" r="3.8" fill="#23446A"/>
<circle cx="1277.57" cy="1218.10" r="3.8" fill="#23446A"/>
<circle cx="1284.65" cy="1218.00" r="3.8" fill="#23446A"/>
<circle cx="1296.90" cy="1144.00" r="3.8" fill="#23446A"/>
<circle cx="1303.98" cy="1143.80" r="3.8" fill="#23446A"/>
<circle cx="1311.06" cy="1143.60" r="3.8" fill="#23446A"/>
<circle cx="1318.14" cy="1143.40" r="3.8" fill="#23446A"/>
<circle cx="1325.22" cy="1143.20" r="3.8" fill="#23446A"/>
<circle cx="1332.30" cy="1143.00" r="3.8" fill="#23446A"/>
<circle cx="1344.55" cy="1216.50" r="3.8" fill="#23446A"/>
<circle cx="1351.63" cy="1216.70" r="3.8" fill="#23446A"/>
<circle cx="1358.71" cy="1216.90" r="3.8" fill="#23446A"/>
<circle cx="1365.79" cy="1217.10" r="3.8" fill="#23446A"/>
<circle cx="1372.87" cy="1217.30" r="3.8" fill="#23446A"/>
<circle cx="1379.95" cy="1217.50" r="3.8" fill="#23446A"/>
<path d="M1011.0 1141.0 L1018.1 1140.5 L1025.2 1140.0 L1032.2 1139.5 L1039.3 1139.0 L1046.4 1138.5 L1058.7 1148.5 L1065.7 1149.0 L1072.8 1149.5 L1079.9 1150.0 L1087.0 1150.5 L1094.1 1151.0 L1106.3 1151.0 L1113.4 1150.5 L1120.5 1150.0 L1127.5 1149.5 L1134.6 1149.0 L1141.7 1148.5 L1154.0 1155.0 L1161.0 1155.6 L1168.1 1156.2 L1175.2 1156.8 L1182.3 1157.4 L1189.4 1158.0 L1201.6 1156.0 L1208.7 1155.5 L1215.8 1155.0 L1222.8 1154.5 L1229.9 1154.0 L1237.0 1153.5 L1249.2 1161.0 L1256.3 1161.8 L1263.4 1162.6 L1270.5 1163.4 L1277.6 1164.2 L1284.7 1165.0 L1296.9 1162.5 L1304.0 1162.0 L1311.1 1161.5 L1318.1 1161.0 L1325.2 1160.5 L1332.3 1160.0 L1344.5 1166.0 L1351.6 1166.6 L1358.7 1167.2 L1365.8 1167.8 L1372.9 1168.4 L1380.0 1169.0" fill="none" stroke="#A00000" stroke-width="2" stroke-linejoin="round" stroke-linecap="round"/>
<path d="M1006.40 1141.00 L1011.00 1136.40 L1015.60 1141.00 L1011.00 1145.60 Z" fill="#fff"/>
<path d="M1006.40 1141.00 L1011.00 1136.40 L1015.60 1141.00 L1011.00 1145.60" fill="none" stroke="#A00000" stroke-width="1.6"/>
<path d="M1013.48 1140.50 L1018.08 1135.90 L1022.68 1140.50 L1018.08 1145.10 Z" fill="#fff"/>
<path d="M1013.48 1140.50 L1018.08 1135.90 L1022.68 1140.50 L1018.08 1145.10" fill="none" stroke="#A00000" stroke-width="1.6"/>
<path d="M1020.56 1140.00 L1025.16 1135.40 L1029.76 1140.00 L1025.16 1144.60 Z" fill="#fff"/>
<path d="M1020.56 1140.00 L1025.16 1135.40 L1029.76 1140.00 L1025.16 1144.60" fill="none" stroke="#A00000" stroke-width="1.6"/>
<path d="M1027.64 1139.50 L1032.24 1134.90 L1036.84 1139.50 L1032.24 1144.10 Z" fill="#fff"/>
<path d="M1027.64 1139.50 L1032.24 1134.90 L1036.84 1139.50 L1032.24 1144.10" fill="none" stroke="#A00000" stroke-width="1.6"/>
<path d="M1034.72 1139.00 L1039.32 1134.40 L1043.92 1139.00 L1039.32 1143.60 Z" fill="#fff"/>
<path d="M1034.72 1139.00 L1039.32 1134.40 L1043.92 1139.00 L1039.32 1143.60" fill="none" stroke="#A00000" stroke-width="1.6"/>
<path d="M1041.80 1138.50 L1046.40 1133.90 L1051.00 1138.50 L1046.40 1143.10 Z" fill="#fff"/>
<path d="M1041.80 1138.50 L1046.40 1133.90 L1051.00 1138.50 L1046.40 1143.10" fill="none" stroke="#A00000" stroke-width="1.6"/>
<path d="M1054.05 1148.50 L1058.65 1143.90 L1063.25 1148.50 L1058.65 1153.10 Z" fill="#fff"/>
<path d="M1054.05 1148.50 L1058.65 1143.90 L1063.25 1148.50 L1058.65 1153.10" fill="none" stroke="#A00000" stroke-width="1.6"/>
<path d="M1061.13 1149.00 L1065.73 1144.40 L1070.33 1149.00 L1065.73 1153.60 Z" fill="#fff"/>
<path d="M1061.13 1149.00 L1065.73 1144.40 L1070.33 1149.00 L1065.73 1153.60" fill="none" stroke="#A00000" stroke-width="1.6"/>
<path d="M1068.21 1149.50 L1072.81 1144.90 L1077.41 1149.50 L1072.81 1154.10 Z" fill="#fff"/>
<path d="M1068.21 1149.50 L1072.81 1144.90 L1077.41 1149.50 L1072.81 1154.10" fill="none" stroke="#A00000" stroke-width="1.6"/>
<path d="M1075.29 1150.00 L1079.89 1145.40 L1084.49 1150.00 L1079.89 1154.60 Z" fill="#fff"/>
<path d="M1075.29 1150.00 L1079.89 1145.40 L1084.49 1150.00 L1079.89 1154.60" fill="none" stroke="#A00000" stroke-width="1.6"/>
<path d="M1082.37 1150.50 L1086.97 1145.90 L1091.57 1150.50 L1086.97 1155.10 Z" fill="#fff"/>
<path d="M1082.37 1150.50 L1086.97 1145.90 L1091.57 1150.50 L1086.97 1155.10" fill="none" stroke="#A00000" stroke-width="1.6"/>
<path d="M1089.45 1151.00 L1094.05 1146.40 L1098.65 1151.00 L1094.05 1155.60 Z" fill="#fff"/>
<path d="M1089.45 1151.00 L1094.05 1146.40 L1098.65 1151.00 L1094.05 1155.60" fill="none" stroke="#A00000" stroke-width="1.6"/>
<path d="M1101.70 1151.00 L1106.30 1146.40 L1110.90 1151.00 L1106.30 1155.60 Z" fill="#fff"/>
<path d="M1101.70 1151.00 L1106.30 1146.40 L1110.90 1151.00 L1106.30 1155.60" fill="none" stroke="#A00000" stroke-width="1.6"/>
<path d="M1108.78 1150.50 L1113.38 1145.90 L1117.98 1150.50 L1113.38 1155.10 Z" fill="#fff"/>
<path d="M1108.78 1150.50 L1113.38 1145.90 L1117.98 1150.50 L1113.38 1155.10" fill="none" stroke="#A00000" stroke-width="1.6"/>
<path d="M1115.86 1150.00 L1120.46 1145.40 L1125.06 1150.00 L1120.46 1154.60 Z" fill="#fff"/>
<path d="M1115.86 1150.00 L1120.46 1145.40 L1125.06 1150.00 L1120.46 1154.60" fill="none" stroke="#A00000" stroke-width="1.6"/>
<path d="M1122.94 1149.50 L1127.54 1144.90 L1132.14 1149.50 L1127.54 1154.10 Z" fill="#fff"/>
<path d="M1122.94 1149.50 L1127.54 1144.90 L1132.14 1149.50 L1127.54 1154.10" fill="none" stroke="#A00000" stroke-width="1.6"/>
<path d="M1130.02 1149.00 L1134.62 1144.40 L1139.22 1149.00 L1134.62 1153.60 Z" fill="#fff"/>
<path d="M1130.02 1149.00 L1134.62 1144.40 L1139.22 1149.00 L1134.62 1153.60" fill="none" stroke="#A00000" stroke-width="1.6"/>
<path d="M1137.10 1148.50 L1141.70 1143.90 L1146.30 1148.50 L1141.70 1153.10 Z" fill="#fff"/>
<path d="M1137.10 1148.50 L1141.70 1143.90 L1146.30 1148.50 L1141.70 1153.10" fill="none" stroke="#A00000" stroke-width="1.6"/>
<path d="M1149.35 1155.00 L1153.95 1150.40 L1158.55 1155.00 L1153.95 1159.60 Z" fill="#fff"/>
<path d="M1149.35 1155.00 L1153.95 1150.40 L1158.55 1155.00 L1153.95 1159.60" fill="none" stroke="#A00000" stroke-width="1.6"/>
<path d="M1156.43 1155.60 L1161.03 1151.00 L1165.63 1155.60 L1161.03 1160.20 Z" fill="#fff"/>
<path d="M1156.43 1155.60 L1161.03 1151.00 L1165.63 1155.60 L1161.03 1160.20" fill="none" stroke="#A00000" stroke-width="1.6"/>
<path d="M1163.51 1156.20 L1168.11 1151.60 L1172.71 1156.20 L1168.11 1160.80 Z" fill="#fff"/>
<path d="M1163.51 1156.20 L1168.11 1151.60 L1172.71 1156.20 L1168.11 1160.80" fill="none" stroke="#A00000" stroke-width="1.6"/>
<path d="M1170.59 1156.80 L1175.19 1152.20 L1179.79 1156.80 L1175.19 1161.40 Z" fill="#fff"/>
<path d="M1170.59 1156.80 L1175.19 1152.20 L1179.79 1156.80 L1175.19 1161.40" fill="none" stroke="#A00000" stroke-width="1.6"/>
<path d="M1177.67 1157.40 L1182.27 1152.80 L1186.87 1157.40 L1182.27 1162.00 Z" fill="#fff"/>
<path d="M1177.67 1157.40 L1182.27 1152.80 L1186.87 1157.40 L1182.27 1162.00" fill="none" stroke="#A00000" stroke-width="1.6"/>
<path d="M1184.75 1158.00 L1189.35 1153.40 L1193.95 1158.00 L1189.35 1162.60 Z" fill="#fff"/>
<path d="M1184.75 1158.00 L1189.35 1153.40 L1193.95 1158.00 L1189.35 1162.60" fill="none" stroke="#A00000" stroke-width="1.6"/>
<path d="M1197.00 1156.00 L1201.60 1151.40 L1206.20 1156.00 L1201.60 1160.60 Z" fill="#fff"/>
<path d="M1197.00 1156.00 L1201.60 1151.40 L1206.20 1156.00 L1201.60 1160.60" fill="none" stroke="#A00000" stroke-width="1.6"/>
<path d="M1204.08 1155.50 L1208.68 1150.90 L1213.28 1155.50 L1208.68 1160.10 Z" fill="#fff"/>
<path d="M1204.08 1155.50 L1208.68 1150.90 L1213.28 1155.50 L1208.68 1160.10" fill="none" stroke="#A00000" stroke-width="1.6"/>
<path d="M1211.16 1155.00 L1215.76 1150.40 L1220.36 1155.00 L1215.76 1159.60 Z" fill="#fff"/>
<path d="M1211.16 1155.00 L1215.76 1150.40 L1220.36 1155.00 L1215.76 1159.60" fill="none" stroke="#A00000" stroke-width="1.6"/>
<path d="M1218.24 1154.50 L1222.84 1149.90 L1227.44 1154.50 L1222.84 1159.10 Z" fill="#fff"/>
<path d="M1218.24 1154.50 L1222.84 1149.90 L1227.44 1154.50 L1222.84 1159.10" fill="none" stroke="#A00000" stroke-width="1.6"/>
<path d="M1225.32 1154.00 L1229.92 1149.40 L1234.52 1154.00 L1229.92 1158.60 Z" fill="#fff"/>
<path d="M1225.32 1154.00 L1229.92 1149.40 L1234.52 1154.00 L1229.92 1158.60" fill="none" stroke="#A00000" stroke-width="1.6"/>
<path d="M1232.40 1153.50 L1237.00 1148.90 L1241.60 1153.50 L1237.00 1158.10 Z" fill="#fff"/>
<path d="M1232.40 1153.50 L1237.00 1148.90 L1241.60 1153.50 L1237.00 1158.10" fill="none" stroke="#A00000" stroke-width="1.6"/>
<path d="M1244.65 1161.00 L1249.25 1156.40 L1253.85 1161.00 L1249.25 1165.60 Z" fill="#fff"/>
<path d="M1244.65 1161.00 L1249.25 1156.40 L1253.85 1161.00 L1249.25 1165.60" fill="none" stroke="#A00000" stroke-width="1.6"/>
<path d="M1251.73 1161.80 L1256.33 1157.20 L1260.93 1161.80 L1256.33 1166.40 Z" fill="#fff"/>
<path d="M1251.73 1161.80 L1256.33 1157.20 L1260.93 1161.80 L1256.33 1166.40" fill="none" stroke="#A00000" stroke-width="1.6"/>
<path d="M1258.81 1162.60 L1263.41 1158.00 L1268.01 1162.60 L1263.41 1167.20 Z" fill="#fff"/>
<path d="M1258.81 1162.60 L1263.41 1158.00 L1268.01 1162.60 L1263.41 1167.20" fill="none" stroke="#A00000" stroke-width="1.6"/>
<path d="M1265.89 1163.40 L1270.49 1158.80 L1275.09 1163.40 L1270.49 1168.00 Z" fill="#fff"/>
<path d="M1265.89 1163.40 L1270.49 1158.80 L1275.09 1163.40 L1270.49 1168.00" fill="none" stroke="#A00000" stroke-width="1.6"/>
<path d="M1272.97 1164.20 L1277.57 1159.60 L1282.17 1164.20 L1277.57 1168.80 Z" fill="#fff"/>
<path d="M1272.97 1164.20 L1277.57 1159.60 L1282.17 1164.20 L1277.57 1168.80" fill="none" stroke="#A00000" stroke-width="1.6"/>
<path d="M1280.05 1165.00 L1284.65 1160.40 L1289.25 1165.00 L1284.65 1169.60 Z" fill="#fff"/>
<path d="M1280.05 1165.00 L1284.65 1160.40 L1289.25 1165.00 L1284.65 1169.60" fill="none" stroke="#A00000" stroke-width="1.6"/>
<path d="M1292.30 1162.50 L1296.90 1157.90 L1301.50 1162.50 L1296.90 1167.10 Z" fill="#fff"/>
<path d="M1292.30 1162.50 L1296.90 1157.90 L1301.50 1162.50 L1296.90 1167.10" fill="none" stroke="#A00000" stroke-width="1.6"/>
<path d="M1299.38 1162.00 L1303.98 1157.40 L1308.58 1162.00 L1303.98 1166.60 Z" fill="#fff"/>
<path d="M1299.38 1162.00 L1303.98 1157.40 L1308.58 1162.00 L1303.98 1166.60" fill="none" stroke="#A00000" stroke-width="1.6"/>
<path d="M1306.46 1161.50 L1311.06 1156.90 L1315.66 1161.50 L1311.06 1166.10 Z" fill="#fff"/>
<path d="M1306.46 1161.50 L1311.06 1156.90 L1315.66 1161.50 L1311.06 1166.10" fill="none" stroke="#A00000" stroke-width="1.6"/>
<path d="M1313.54 1161.00 L1318.14 1156.40 L1322.74 1161.00 L1318.14 1165.60 Z" fill="#fff"/>
<path d="M1313.54 1161.00 L1318.14 1156.40 L1322.74 1161.00 L1318.14 1165.60" fill="none" stroke="#A00000" stroke-width="1.6"/>
<path d="M1320.62 1160.50 L1325.22 1155.90 L1329.82 1160.50 L1325.22 1165.10 Z" fill="#fff"/>
<path d="M1320.62 1160.50 L1325.22 1155.90 L1329.82 1160.50 L1325.22 1165.10" fill="none" stroke="#A00000" stroke-width="1.6"/>
<path d="M1327.70 1160.00 L1332.30 1155.40 L1336.90 1160.00 L1332.30 1164.60 Z" fill="#fff"/>
<path d="M1327.70 1160.00 L1332.30 1155.40 L1336.90 1160.00 L1332.30 1164.60" fill="none" stroke="#A00000" stroke-width="1.6"/>
<path d="M1339.95 1166.00 L1344.55 1161.40 L1349.15 1166.00 L1344.55 1170.60 Z" fill="#fff"/>
<path d="M1339.95 1166.00 L1344.55 1161.40 L1349.15 1166.00 L1344.55 1170.60" fill="none" stroke="#A00000" stroke-width="1.6"/>
<path d="M1347.03 1166.60 L1351.63 1162.00 L1356.23 1166.60 L1351.63 1171.20 Z" fill="#fff"/>
<path d="M1347.03 1166.60 L1351.63 1162.00 L1356.23 1166.60 L1351.63 1171.20" fill="none" stroke="#A00000" stroke-width="1.6"/>
<path d="M1354.11 1167.20 L1358.71 1162.60 L1363.31 1167.20 L1358.71 1171.80 Z" fill="#fff"/>
<path d="M1354.11 1167.20 L1358.71 1162.60 L1363.31 1167.20 L1358.71 1171.80" fill="none" stroke="#A00000" stroke-width="1.6"/>
<path d="M1361.19 1167.80 L1365.79 1163.20 L1370.39 1167.80 L1365.79 1172.40 Z" fill="#fff"/>
<path d="M1361.19 1167.80 L1365.79 1163.20 L1370.39 1167.80 L1365.79 1172.40" fill="none" stroke="#A00000" stroke-width="1.6"/>
<path d="M1368.27 1168.40 L1372.87 1163.80 L1377.47 1168.40 L1372.87 1173.00 Z" fill="#fff"/>
<path d="M1368.27 1168.40 L1372.87 1163.80 L1377.47 1168.40 L1372.87 1173.00" fill="none" stroke="#A00000" stroke-width="1.6"/>
<path d="M1375.35 1169.00 L1379.95 1164.40 L1384.55 1169.00 L1379.95 1173.60 Z" fill="#fff"/>
<path d="M1375.35 1169.00 L1379.95 1164.40 L1384.55 1169.00 L1379.95 1173.60" fill="none" stroke="#A00000" stroke-width="1.6"/>
<path d="M1011.0 1089.9 L1018.1 1089.8 L1025.2 1089.7 L1032.2 1089.7 L1039.3 1089.6 L1046.4 1089.5 L1058.7 1178.0 L1065.7 1178.1 L1072.8 1178.2 L1079.9 1178.3 L1087.0 1178.4 L1094.1 1178.5 L1106.3 1091.6 L1113.4 1091.5 L1120.5 1091.5 L1127.5 1091.4 L1134.6 1091.4 L1141.7 1091.3 L1154.0 1179.2 L1161.0 1179.3 L1168.1 1179.3 L1175.2 1179.4 L1182.3 1179.4 L1189.4 1179.5 L1201.6 1089.9 L1208.7 1089.8 L1215.8 1089.7 L1222.8 1089.7 L1229.9 1089.6 L1237.0 1089.5 L1249.2 1186.0 L1256.3 1186.7 L1263.4 1187.4 L1270.5 1188.2 L1277.6 1188.9 L1284.7 1189.6 L1296.9 1091.0 L1304.0 1091.0 L1311.1 1091.0 L1318.1 1091.0 L1325.2 1091.0 L1332.3 1091.0 L1344.5 1190.8 L1351.6 1190.8 L1358.7 1190.8 L1365.8 1190.8 L1372.9 1190.8 L1380.0 1190.8" fill="none" stroke="#A00000" stroke-width="2" stroke-linejoin="round" stroke-linecap="round"/>
<path d="M1006.40 1089.90 L1011.00 1085.30 L1015.60 1089.90 L1011.00 1094.50 Z" fill="#A00000"/>
<path d="M1013.48 1089.82 L1018.08 1085.22 L1022.68 1089.82 L1018.08 1094.42 Z" fill="#A00000"/>
<path d="M1020.56 1089.74 L1025.16 1085.14 L1029.76 1089.74 L1025.16 1094.34 Z" fill="#A00000"/>
<path d="M1027.64 1089.66 L1032.24 1085.06 L1036.84 1089.66 L1032.24 1094.26 Z" fill="#A00000"/>
<path d="M1034.72 1089.58 L1039.32 1084.98 L1043.92 1089.58 L1039.32 1094.18 Z" fill="#A00000"/>
<path d="M1041.80 1089.50 L1046.40 1084.90 L1051.00 1089.50 L1046.40 1094.10 Z" fill="#A00000"/>
<path d="M1054.05 1178.00 L1058.65 1173.40 L1063.25 1178.00 L1058.65 1182.60 Z" fill="#A00000"/>
<path d="M1061.13 1178.10 L1065.73 1173.50 L1070.33 1178.10 L1065.73 1182.70 Z" fill="#A00000"/>
<path d="M1068.21 1178.20 L1072.81 1173.60 L1077.41 1178.20 L1072.81 1182.80 Z" fill="#A00000"/>
<path d="M1075.29 1178.30 L1079.89 1173.70 L1084.49 1178.30 L1079.89 1182.90 Z" fill="#A00000"/>
<path d="M1082.37 1178.40 L1086.97 1173.80 L1091.57 1178.40 L1086.97 1183.00 Z" fill="#A00000"/>
<path d="M1089.45 1178.50 L1094.05 1173.90 L1098.65 1178.50 L1094.05 1183.10 Z" fill="#A00000"/>
<path d="M1101.70 1091.60 L1106.30 1087.00 L1110.90 1091.60 L1106.30 1096.20 Z" fill="#A00000"/>
<path d="M1108.78 1091.54 L1113.38 1086.94 L1117.98 1091.54 L1113.38 1096.14 Z" fill="#A00000"/>
<path d="M1115.86 1091.48 L1120.46 1086.88 L1125.06 1091.48 L1120.46 1096.08 Z" fill="#A00000"/>
<path d="M1122.94 1091.42 L1127.54 1086.82 L1132.14 1091.42 L1127.54 1096.02 Z" fill="#A00000"/>
<path d="M1130.02 1091.36 L1134.62 1086.76 L1139.22 1091.36 L1134.62 1095.96 Z" fill="#A00000"/>
<path d="M1137.10 1091.30 L1141.70 1086.70 L1146.30 1091.30 L1141.70 1095.90 Z" fill="#A00000"/>
<path d="M1149.35 1179.20 L1153.95 1174.60 L1158.55 1179.20 L1153.95 1183.80 Z" fill="#A00000"/>
<path d="M1156.43 1179.26 L1161.03 1174.66 L1165.63 1179.26 L1161.03 1183.86 Z" fill="#A00000"/>
<path d="M1163.51 1179.32 L1168.11 1174.72 L1172.71 1179.32 L1168.11 1183.92 Z" fill="#A00000"/>
<path d="M1170.59 1179.38 L1175.19 1174.78 L1179.79 1179.38 L1175.19 1183.98 Z" fill="#A00000"/>
<path d="M1177.67 1179.44 L1182.27 1174.84 L1186.87 1179.44 L1182.27 1184.04 Z" fill="#A00000"/>
<path d="M1184.75 1179.50 L1189.35 1174.90 L1193.95 1179.50 L1189.35 1184.10 Z" fill="#A00000"/>
<path d="M1197.00 1089.90 L1201.60 1085.30 L1206.20 1089.90 L1201.60 1094.50 Z" fill="#A00000"/>
<path d="M1204.08 1089.82 L1208.68 1085.22 L1213.28 1089.82 L1208.68 1094.42 Z" fill="#A00000"/>
<path d="M1211.16 1089.74 L1215.76 1085.14 L1220.36 1089.74 L1215.76 1094.34 Z" fill="#A00000"/>
<path d="M1218.24 1089.66 L1222.84 1085.06 L1227.44 1089.66 L1222.84 1094.26 Z" fill="#A00000"/>
<path d="M1225.32 1089.58 L1229.92 1084.98 L1234.52 1089.58 L1229.92 1094.18 Z" fill="#A00000"/>
<path d="M1232.40 1089.50 L1237.00 1084.90 L1241.60 1089.50 L1237.00 1094.10 Z" fill="#A00000"/>
<path d="M1244.65 1186.00 L1249.25 1181.40 L1253.85 1186.00 L1249.25 1190.60 Z" fill="#A00000"/>
<path d="M1251.73 1186.72 L1256.33 1182.12 L1260.93 1186.72 L1256.33 1191.32 Z" fill="#A00000"/>
<path d="M1258.81 1187.44 L1263.41 1182.84 L1268.01 1187.44 L1263.41 1192.04 Z" fill="#A00000"/>
<path d="M1265.89 1188.16 L1270.49 1183.56 L1275.09 1188.16 L1270.49 1192.76 Z" fill="#A00000"/>
<path d="M1272.97 1188.88 L1277.57 1184.28 L1282.17 1188.88 L1277.57 1193.48 Z" fill="#A00000"/>
<path d="M1280.05 1189.60 L1284.65 1185.00 L1289.25 1189.60 L1284.65 1194.20 Z" fill="#A00000"/>
<path d="M1292.30 1091.00 L1296.90 1086.40 L1301.50 1091.00 L1296.90 1095.60 Z" fill="#A00000"/>
<path d="M1299.38 1091.00 L1303.98 1086.40 L1308.58 1091.00 L1303.98 1095.60 Z" fill="#A00000"/>
<path d="M1306.46 1091.00 L1311.06 1086.40 L1315.66 1091.00 L1311.06 1095.60 Z" fill="#A00000"/>
<path d="M1313.54 1091.00 L1318.14 1086.40 L1322.74 1091.00 L1318.14 1095.60 Z" fill="#A00000"/>
<path d="M1320.62 1091.00 L1325.22 1086.40 L1329.82 1091.00 L1325.22 1095.60 Z" fill="#A00000"/>
<path d="M1327.70 1091.00 L1332.30 1086.40 L1336.90 1091.00 L1332.30 1095.60 Z" fill="#A00000"/>
<path d="M1339.95 1190.80 L1344.55 1186.20 L1349.15 1190.80 L1344.55 1195.40 Z" fill="#A00000"/>
<path d="M1347.03 1190.80 L1351.63 1186.20 L1356.23 1190.80 L1351.63 1195.40 Z" fill="#A00000"/>
<path d="M1354.11 1190.80 L1358.71 1186.20 L1363.31 1190.80 L1358.71 1195.40 Z" fill="#A00000"/>
<path d="M1361.19 1190.80 L1365.79 1186.20 L1370.39 1190.80 L1365.79 1195.40 Z" fill="#A00000"/>
<path d="M1368.27 1190.80 L1372.87 1186.20 L1377.47 1190.80 L1372.87 1195.40 Z" fill="#A00000"/>
<path d="M1375.35 1190.80 L1379.95 1186.20 L1384.55 1190.80 L1379.95 1195.40 Z" fill="#A00000"/>
<rect x="1003.10" y="1053.80" width="384.70" height="309.40" fill="none" stroke="#000" stroke-width="2.2"/>
<line x1="997.50" y1="1363.20" x2="1003.10" y2="1363.20" stroke="#000" stroke-width="2.2"/>
<text transform="translate(979.60 1374.70) scale(1 1.03)" font-size="32.5" text-anchor="end">10</text>
<text transform="translate(982.50 1361.20) scale(1 1.03)" font-size="22">1</text>
<line x1="997.50" y1="1260.07" x2="1003.10" y2="1260.07" stroke="#000" stroke-width="2.2"/>
<text transform="translate(979.60 1271.57) scale(1 1.03)" font-size="32.5" text-anchor="end">10</text>
<text transform="translate(982.50 1258.07) scale(1 1.03)" font-size="22">2</text>
<line x1="997.50" y1="1156.93" x2="1003.10" y2="1156.93" stroke="#000" stroke-width="2.2"/>
<text transform="translate(979.60 1168.43) scale(1 1.03)" font-size="32.5" text-anchor="end">10</text>
<text transform="translate(982.50 1154.93) scale(1 1.03)" font-size="22">3</text>
<line x1="997.50" y1="1053.80" x2="1003.10" y2="1053.80" stroke="#000" stroke-width="2.2"/>
<text transform="translate(979.60 1065.30) scale(1 1.03)" font-size="32.5" text-anchor="end">10</text>
<text transform="translate(982.50 1051.80) scale(1 1.03)" font-size="22">4</text>
<line x1="1003.00" y1="1363.20" x2="1003.00" y2="1369.20" stroke="#000" stroke-width="2.2"/>
<text transform="translate(1003.00 1399.70) scale(1 1.03)" font-size="32.5" text-anchor="middle">0</text>
<line x1="1098.00" y1="1363.20" x2="1098.00" y2="1369.20" stroke="#000" stroke-width="2.2"/>
<text transform="translate(1098.00 1399.70) scale(1 1.03)" font-size="32.5" text-anchor="middle">120</text>
<line x1="1193.40" y1="1363.20" x2="1193.40" y2="1369.20" stroke="#000" stroke-width="2.2"/>
<text transform="translate(1193.40 1399.70) scale(1 1.03)" font-size="32.5" text-anchor="middle">240</text>
<line x1="1289.00" y1="1363.20" x2="1289.00" y2="1369.20" stroke="#000" stroke-width="2.2"/>
<text transform="translate(1289.00 1399.70) scale(1 1.03)" font-size="32.5" text-anchor="middle">360</text>
<line x1="1383.80" y1="1363.20" x2="1383.80" y2="1369.20" stroke="#000" stroke-width="2.2"/>
<text transform="translate(1383.80 1399.70) scale(1 1.03)" font-size="32.5" text-anchor="middle">480</text>
<text transform="translate(1196.50 1450.50) scale(1 1.03)" font-size="34" text-anchor="middle">Time (s)</text>
<text transform="translate(922.80 1208.00) rotate(-90) scale(1 1.03)" font-size="34" text-anchor="middle">G' / G'' (Pa)</text>
<text transform="translate(1178.60 1276.60) scale(1 1.03)" font-size="26.1" text-anchor="end">CAHP-8%</text>
<line x1="1202.50" y1="1267.50" x2="1235.90" y2="1267.50" stroke="#B3B3B3" stroke-width="2"/>
<line x1="1292.10" y1="1267.50" x2="1327.00" y2="1267.50" stroke="#B3B3B3" stroke-width="2"/>
<rect x="1215.70" y="1264.00" width="7.00" height="7.00" fill="#B3B3B3"/>
<rect x="1306.80" y="1264.90" width="5.2" height="5.2" fill="#fff" stroke="#B3B3B3" stroke-width="1.4"/>
<text transform="translate(1246.00 1276.60) scale(1 1.03)" font-size="26.5" font-style="italic">G′</text>
<text transform="translate(1335.50 1276.60) scale(1 1.03)" font-size="26.5" font-style="italic">G″</text>
<text transform="translate(1178.60 1309.00) scale(1 1.03)" font-size="26.1" text-anchor="end">CAHP-10%</text>
<line x1="1202.50" y1="1300.20" x2="1235.90" y2="1300.20" stroke="#23446A" stroke-width="2"/>
<line x1="1292.10" y1="1300.20" x2="1327.00" y2="1300.20" stroke="#23446A" stroke-width="2"/>
<circle cx="1219.20" cy="1300.20" r="3.8" fill="#23446A"/>
<circle cx="1309.40" cy="1300.20" r="3.1" fill="#fff" stroke="#23446A" stroke-width="1.3"/>
<text transform="translate(1246.00 1309.00) scale(1 1.03)" font-size="26.5" font-style="italic">G′</text>
<text transform="translate(1335.50 1309.00) scale(1 1.03)" font-size="26.5" font-style="italic">G″</text>
<text transform="translate(1178.60 1341.40) scale(1 1.03)" font-size="26.1" text-anchor="end">CAHP-12%</text>
<line x1="1202.50" y1="1332.60" x2="1235.90" y2="1332.60" stroke="#A00000" stroke-width="2"/>
<line x1="1292.10" y1="1332.60" x2="1327.00" y2="1332.60" stroke="#A00000" stroke-width="2"/>
<path d="M1214.60 1332.60 L1219.20 1328.00 L1223.80 1332.60 L1219.20 1337.20 Z" fill="#A00000"/>
<path d="M1304.80 1332.60 L1309.40 1328.00 L1314.00 1332.60 L1309.40 1337.20 Z" fill="#fff"/>
<path d="M1304.80 1332.60 L1309.40 1328.00 L1314.00 1332.60 L1309.40 1337.20" fill="none" stroke="#A00000" stroke-width="1.6"/>
<text transform="translate(1246.00 1341.40) scale(1 1.03)" font-size="26.5" font-style="italic">G′</text>
<text transform="translate(1335.50 1341.40) scale(1 1.03)" font-size="26.5" font-style="italic">G″</text>
<path d="M1708.1 1068.1 L1882.3 1242.3 L1708.1 1416.5 L1533.9 1242.3 L1708.1 1068.1" fill="none" stroke="#c8c8c8" stroke-width="1.2" stroke-linejoin="round" stroke-linecap="round"/>
<path d="M1708.1 1108.0 L1857.0 1242.3 L1708.1 1388.3 L1584.4 1242.3 Z" fill="rgba(74,122,175,0.45)" stroke="#1c3050" stroke-width="1.6" stroke-linejoin="miter"/>
<path d="M1708.1 1203.5 L1857.0 1242.3 L1708.1 1280.1 L1597.0 1242.3 Z" fill="rgba(150,140,225,0.30)" stroke="#6a62d6" stroke-width="1.6" stroke-linejoin="miter"/>
<path d="M1708.1 1216.5 L1855.8 1242.3 L1708.1 1385.7 L1617.2 1242.3 Z" fill="rgba(252,215,110,0.40)" stroke="#f6c23c" stroke-width="1.6" stroke-linejoin="miter"/>
<path d="M1708.1 1215.3 L1857.0 1242.3 L1708.1 1389.5 L1681.6 1242.3 Z" fill="rgba(120,215,160,0.40)" stroke="#5fd08e" stroke-width="1.6" stroke-linejoin="miter"/>
<path d="M1708.1 1114.3 L1732.1 1242.3 L1708.1 1264.6 L1559.2 1242.3 Z" fill="rgba(110,110,110,0.42)" stroke="#6a6a6a" stroke-width="1.6" stroke-linejoin="miter"/>
<path d="M1708.1 1143.4 L1833.0 1242.3 L1708.1 1268.3 L1608.5 1242.3 Z" fill="rgba(250,140,150,0.38)" stroke="#f27a86" stroke-width="1.6" stroke-linejoin="miter"/>
<path d="M1708.1 1217.4 L1733.0 1242.3 L1708.1 1267.2 L1683.2 1242.3 L1708.1 1217.4" fill="none" stroke="rgba(0,0,0,0.13)" stroke-width="1.1" stroke-linejoin="round" stroke-linecap="round"/>
<path d="M1708.1 1192.5 L1757.9 1242.3 L1708.1 1292.1 L1658.3 1242.3 L1708.1 1192.5" fill="none" stroke="rgba(0,0,0,0.13)" stroke-width="1.1" stroke-linejoin="round" stroke-linecap="round"/>
<path d="M1708.1 1167.6 L1782.8 1242.3 L1708.1 1317.0 L1633.4 1242.3 L1708.1 1167.6" fill="none" stroke="rgba(0,0,0,0.13)" stroke-width="1.1" stroke-linejoin="round" stroke-linecap="round"/>
<path d="M1708.1 1142.8 L1807.6 1242.3 L1708.1 1341.8 L1608.6 1242.3 L1708.1 1142.8" fill="none" stroke="rgba(0,0,0,0.13)" stroke-width="1.1" stroke-linejoin="round" stroke-linecap="round"/>
<path d="M1708.1 1117.9 L1832.5 1242.3 L1708.1 1366.7 L1583.7 1242.3 L1708.1 1117.9" fill="none" stroke="rgba(0,0,0,0.13)" stroke-width="1.1" stroke-linejoin="round" stroke-linecap="round"/>
<path d="M1708.1 1093.0 L1857.4 1242.3 L1708.1 1391.6 L1558.8 1242.3 L1708.1 1093.0" fill="none" stroke="rgba(0,0,0,0.13)" stroke-width="1.1" stroke-linejoin="round" stroke-linecap="round"/>
<line x1="1708.10" y1="1068.10" x2="1708.10" y2="1416.50" stroke="#8a8a8a" stroke-width="1.3"/>
<line x1="1533.90" y1="1242.30" x2="1882.30" y2="1242.30" stroke="#8a8a8a" stroke-width="1.3"/>
<rect x="1833.8" y="986.0" width="53.7" height="26.4" fill="rgba(74,122,175,0.45)" stroke="#1c3050" stroke-width="1.6"/>
<text transform="translate(1895.00 1007.50) scale(1 1.03)" font-size="24.5">this work</text>
<rect x="1833.8" y="1015.7" width="53.7" height="26.4" fill="rgba(150,140,225,0.30)" stroke="#6a62d6" stroke-width="1.6"/>
<text transform="translate(1895.00 1037.20) scale(1 1.03)" font-size="24.5">Ref.13</text>
<rect x="1833.8" y="1045.5" width="53.7" height="26.4" fill="rgba(252,215,110,0.40)" stroke="#f6c23c" stroke-width="1.6"/>
<text transform="translate(1895.00 1067.00) scale(1 1.03)" font-size="24.5">Ref.14</text>
<rect x="1833.8" y="1075.3" width="53.7" height="26.4" fill="rgba(120,215,160,0.40)" stroke="#5fd08e" stroke-width="1.6"/>
<text transform="translate(1895.00 1096.80) scale(1 1.03)" font-size="24.5">Ref.16</text>
<rect x="1833.8" y="1105.0" width="53.7" height="26.4" fill="rgba(110,110,110,0.42)" stroke="#6a6a6a" stroke-width="1.6"/>
<text transform="translate(1895.00 1126.50) scale(1 1.03)" font-size="24.5">Ref.29</text>
<rect x="1833.8" y="1135.0" width="53.7" height="26.4" fill="rgba(250,140,150,0.38)" stroke="#f27a86" stroke-width="1.6"/>
<text transform="translate(1895.00 1156.50) scale(1 1.03)" font-size="24.5">Ref.30</text>
<text transform="translate(1665.70 1046.00) scale(1 1.03)" font-size="31" text-anchor="middle">Adhesion toughness</text>
<text transform="translate(1655.00 1100.80) scale(1 1.03)" font-size="31">500 J·m<tspan font-size="20" dx="-4" dy="-12">−2</tspan></text>
<text transform="translate(1845.40 1236.50) scale(1 1.03)" font-size="31">Yes</text>
<text transform="translate(1514.40 1274.60) scale(1 1.03)" font-size="31">100 kPa</text>
<text transform="translate(1710.00 1417.00) scale(1 1.03)" font-size="31">100%</text>
<text transform="translate(1708.00 1453.30) scale(1 1.03)" font-size="31" text-anchor="middle">Self-healing efficiency</text>
<text transform="translate(1488.00 1250.00) rotate(-90) scale(1 1.03)" font-size="31" text-anchor="middle">Young's modulus</text>
<text transform="translate(1927.00 1259.00) rotate(90) scale(1 1.03)" font-size="31" text-anchor="middle">Injectability</text>
</svg></body></html>
